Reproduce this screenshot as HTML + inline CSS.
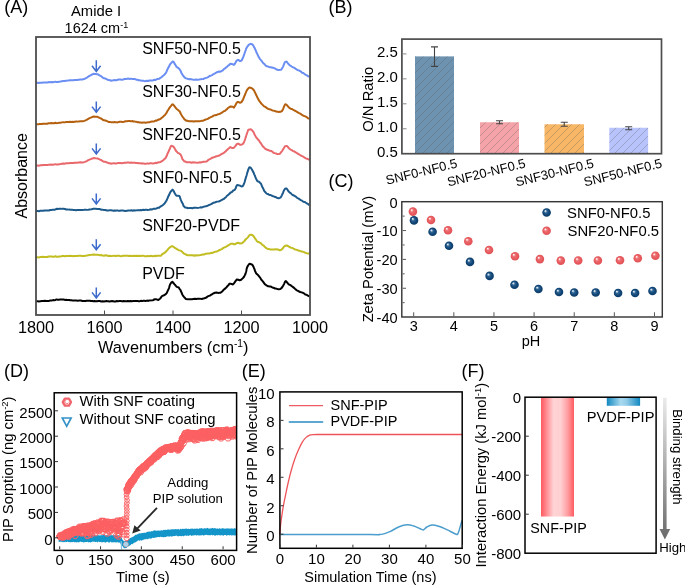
<!DOCTYPE html>
<html><head><meta charset="utf-8"><style>
html,body{margin:0;padding:0;background:#fff;}
svg{display:block;will-change:transform;}
text{font-family:"Liberation Sans", sans-serif;}
</style></head><body>
<svg width="685" height="586" viewBox="0 0 685 586">
<rect width="685" height="586" fill="#fff"/>
<text x="4.3" y="12.6" font-size="18" text-anchor="start" fill="#000" >(A)</text>
<text x="96.1" y="16.2" font-size="14.8" text-anchor="middle" fill="#000" >Amide I</text>
<text x="96.4" y="33.1" font-size="14.5" text-anchor="middle" fill="#000" >1624 cm<tspan font-size="9" dy="-5.5">-1</tspan></text>
<path d="M36,82.9 L36.68,82.84 L37.49,82.86 L38.42,83.02 L39.46,82.73 L40.59,82.7 L41.81,82.69 L43.09,82.42 L44.42,82.53 L45.79,82.53 L47.19,82.55 L48.61,82.1 L50.02,82.14 L51.42,81.94 L52.79,82.25 L54.12,82.1 L55.4,81.65 L56.61,82.07 L57.88,81.95 L59.2,81.67 L60.56,81.52 L61.94,81.14 L63.34,80.93 L64.73,81.07 L66.11,80.67 L67.47,80.61 L68.79,80.5 L70.05,80.25 L71.26,80.36 L72.39,80.23 L73.43,80.34 L74.37,80.06 L75.2,80.05 L75.9,79.9 L77,79.91 L78.6,79.71 L80.5,79.44 L82.28,79.5 L84,79.03 L85.56,78.32 L87,77.54 L88.31,76.6 L89.5,75.85 L91.5,74.78 L93.5,73.86 L95.5,73.96 L97.5,74.16 L99.5,75.39 L101.5,76.44 L102.69,77.54 L104,78.28 L105.47,78.56 L107,79.29 L108.47,80.09 L110,80.13 L110.84,80.65 L113.5,80.31 L114.33,80.07 L115.31,80.27 L116.42,80.23 L117.63,79.82 L118.93,79.56 L120.29,79.54 L121.7,79.72 L123.13,79.45 L124.56,78.96 L125.97,78.9 L127.34,78.71 L128.65,78.61 L129.88,78.96 L131,78.63 L132.43,78.91 L133.76,79.02 L135.01,79.11 L136.2,79.68 L137.35,79.66 L138.49,80.24 L139.63,80.23 L140.8,80.62 L142.01,80.67 L143.3,80.78 L144.44,81.16 L145.65,81.04 L146.9,80.72 L148.17,80.95 L149.47,80.48 L150.76,80.44 L152.03,80.53 L153.27,80.24 L154.46,79.74 L155.59,79.99 L156.64,79.32 L157.6,79.07 L159.06,78.81 L160.34,77.94 L161.47,77.22 L162.48,76.33 L163.39,75.54 L164.22,74.98 L165,73.96 L165.77,73.15 L166.36,71.95 L166.84,70.88 L167.27,70.03 L167.73,68.66 L168.3,67.64 L168.98,66.64 L169.71,64.99 L170.47,63.7 L171.24,62.99 L171.99,62.14 L172.7,61.46 L173.5,61.76 L174.27,63.03 L175.02,64.45 L175.73,65.35 L176.4,66.74 L177.76,67.64 L179.2,68.76 L179.73,69.5 L180.31,70.4 L180.92,71.58 L181.55,73.34 L182.22,74.17 L182.9,75.52 L183.6,76.17 L184.49,77.41 L185.3,78 L186.22,78.38 L187.43,78.72 L189.1,79.32 L190.07,79.09 L191.18,79.28 L192.4,79.56 L193.71,79.79 L195.08,79.71 L196.5,79.54 L197.92,79.86 L199.34,79.4 L200.73,79.17 L202.06,79.12 L203.3,78.97 L204.5,78.42 L205.7,78.04 L206.9,77.61 L208.09,77.12 L209.26,76.25 L210.4,75.72 L211.5,75.36 L212.56,74.78 L213.57,74.02 L214.52,73.53 L215.4,73.05 L217.02,72.2 L218.29,71.83 L219.4,71.58 L220.54,71.71 L221.9,70.91 L222.81,70.44 L223.81,69.16 L224.87,68.6 L225.96,67.58 L227.04,66.76 L228.09,65.63 L229.07,65.19 L229.95,64.03 L230.7,63.82 L232.69,64.24 L234,64.92 L234.8,63.91 L235.59,62.44 L236.4,61.03 L237.3,60.12 L238.61,60.08 L240.04,61.1 L241.6,60.52 L242.02,59.83 L242.47,58.69 L242.93,57.81 L243.41,56.63 L243.9,55.16 L244.39,53.82 L244.88,52.31 L245.36,51.07 L245.82,49.81 L246.27,48.37 L246.7,47.67 L247.1,47.07 L248.5,45.06 L249.69,44.2 L250.8,43.84 L251.73,44.1 L252.57,44.68 L253.7,46.27 L254.14,47.27 L254.62,47.84 L255.13,49.31 L255.66,50.14 L256.22,51.72 L256.8,52.96 L257.39,54.12 L257.99,55.62 L258.6,56.67 L259.2,57.76 L259.96,59.1 L260.75,59.88 L261.56,60.84 L262.38,62.02 L263.21,63.17 L264.04,63.79 L264.88,64.55 L265.7,65.62 L266.98,66.28 L268.23,66.65 L269.5,67.2 L270.84,67.16 L272.3,67.69 L273.47,67.83 L274.76,68.47 L276.11,69.21 L277.46,69.74 L278.77,70.05 L279.96,69.87 L281,69.74 L281.85,68.87 L282.57,67.59 L283.19,66.32 L283.74,64.96 L284.27,63.53 L284.81,62.34 L285.4,61.84 L286.4,61.56 L287.33,62.5 L288.39,64.06 L289.8,65.28 L290.68,65.8 L291.64,66.48 L292.69,67.18 L293.79,67.72 L294.95,68.26 L296.15,69.19 L297.37,69.95 L298.6,70.37 L299.65,70.8 L300.82,71.47 L302.06,72.67 L303.33,72.99 L304.6,74.13 L305.82,74.8 L306.96,75.35 L307.98,76.23 L308.84,76.34 L309.5,77" fill="none" stroke="#6b8ef3" stroke-width="2" stroke-linejoin="round"/>
<path d="M36,124.3 L36.68,124.23 L37.49,124.23 L38.42,124.37 L39.46,124.05 L40.59,124 L41.81,123.96 L43.09,123.66 L44.42,123.74 L45.79,123.72 L47.19,123.71 L48.61,123.24 L50.02,123.26 L51.42,123.05 L52.79,123.34 L54.12,123.19 L55.4,122.75 L56.61,123.18 L57.88,123.08 L59.2,122.82 L60.56,122.71 L61.94,122.37 L63.34,122.2 L64.73,122.38 L66.11,122.03 L67.47,122.01 L68.79,121.95 L70.05,121.75 L71.26,121.9 L72.39,121.81 L73.43,121.95 L74.37,121.71 L75.2,121.72 L75.9,121.6 L77,121.62 L78.6,121.45 L80.5,121.21 L82.28,121.32 L84,120.93 L85.56,120.33 L87,119.67 L88.31,118.84 L89.5,118.21 L91.5,117.31 L93.5,116.53 L95.5,116.68 L97.5,116.82 L99.5,117.9 L101.5,118.76 L102.69,119.74 L104,120.36 L105.47,120.52 L107,121.17 L108.47,121.9 L110,121.91 L111.74,122.35 L113.5,122.14 L114.43,122.1 L116.7,122.37 L117.59,122.39 L118.65,122.01 L119.85,121.79 L121.17,121.79 L122.56,121.99 L124.01,121.73 L125.48,121.25 L126.94,121.21 L128.37,121.04 L129.73,120.97 L131,121.36 L132.3,121.09 L133.56,121.43 L134.77,121.56 L135.97,121.64 L137.15,122.16 L138.33,122.06 L139.53,122.54 L140.74,122.41 L142,122.66 L143.3,122.54 L144.44,122.52 L145.65,122.8 L146.9,122.58 L148.17,122.16 L149.47,122.29 L150.76,121.71 L152.03,121.58 L153.27,121.57 L154.46,121.19 L155.59,120.6 L156.64,120.78 L157.6,120.05 L159.06,119.47 L160.34,119.06 L161.47,118.08 L162.48,117.27 L163.39,116.35 L164.22,115.56 L165,115.04 L165.9,113.79 L166.56,112.89 L167.1,111.68 L167.64,110.64 L168.3,109.85 L169.12,108.4 L170.01,107.12 L170.94,106.04 L171.85,104.74 L172.7,104.31 L173.7,105.21 L174.65,106.44 L175.55,107.62 L176.4,108.73 L177.76,109.73 L179.2,110.94 L179.73,111.36 L180.31,112.83 L180.92,114 L181.55,115.12 L182.22,116.26 L182.9,117.2 L183.6,118.05 L184.49,119.49 L185.3,119.83 L186.22,120.64 L187.43,120.79 L189.1,121.37 L190.07,121.34 L191.18,121.25 L192.4,121.22 L193.71,121.53 L195.08,121.16 L196.5,121.2 L197.92,121.29 L199.34,121.32 L200.73,121.03 L202.06,120.64 L203.3,120.73 L204.5,120.01 L205.7,119.49 L206.9,119.13 L208.09,118.69 L209.26,117.9 L210.4,117.37 L211.5,116.89 L212.56,116.43 L213.57,115.67 L214.52,115.32 L215.4,115.21 L217.02,114.68 L218.29,114.17 L219.4,113.93 L220.54,113.51 L221.9,112.61 L222.81,111.97 L223.81,111.24 L224.87,110.89 L225.96,109.9 L227.04,109.15 L228.09,107.8 L229.07,107.39 L229.95,106.7 L230.7,106.42 L232.69,106.69 L234,107.67 L234.64,106.41 L235.27,105.44 L235.91,104.15 L236.58,102.97 L237.3,102.03 L238.61,102.05 L240.04,102.74 L241.6,102.12 L242.06,101.14 L242.56,100.42 L243.07,99.44 L243.6,98.21 L244.14,96.66 L244.68,95.52 L245.21,94.24 L245.73,92.83 L246.22,91.72 L246.68,90.6 L247.1,89.94 L248.36,88.34 L249.38,87.52 L250.4,87.78 L251.42,88.05 L252.44,88.56 L253.7,90.02 L254.16,90.6 L254.64,91.72 L255.16,92.71 L255.69,93.81 L256.25,95.26 L256.82,96.11 L257.41,97.71 L258,98.5 L258.6,99.9 L259.2,100.79 L260.08,101.86 L260.98,103.22 L261.91,104.13 L262.85,105.12 L263.81,106.14 L264.76,106.56 L265.7,107.14 L266.98,108.12 L268.23,108.95 L269.5,109.2 L270.84,109.61 L272.3,110.42 L273.47,110.64 L274.76,110.95 L276.11,111.6 L277.46,111.64 L278.77,112.03 L279.96,111.79 L281,111.66 L281.85,111.2 L282.57,110.19 L283.19,108.87 L283.74,107.23 L284.27,106.08 L284.81,104.94 L285.4,104.3 L286.4,104.59 L287.33,105.68 L288.39,106.97 L289.8,108.11 L290.68,108.77 L291.64,108.96 L292.69,109.46 L293.79,110.2 L294.95,110.72 L296.15,111.32 L297.37,112.08 L298.6,112.87 L299.65,113.39 L300.82,113.95 L302.06,114.94 L303.33,115.74 L304.6,116.17 L305.82,116.67 L306.96,117.3 L307.98,118.34 L308.84,118.38 L309.5,119" fill="none" stroke="#b5600e" stroke-width="2" stroke-linejoin="round"/>
<path d="M36,165.6 L36.68,165.53 L37.49,165.54 L38.42,165.69 L39.46,165.38 L40.59,165.33 L41.81,165.31 L43.09,165.01 L44.42,165.11 L45.79,165.09 L47.19,165.1 L48.61,164.63 L50.02,164.66 L51.42,164.45 L52.79,164.75 L54.12,164.6 L55.4,164.15 L56.61,164.57 L57.88,164.46 L59.2,164.19 L60.56,164.06 L61.94,163.7 L63.34,163.51 L64.73,163.67 L66.11,163.3 L67.47,163.25 L68.79,163.17 L70.05,162.94 L71.26,163.08 L72.39,162.97 L73.43,163.09 L74.37,162.84 L75.2,162.83 L75.9,162.7 L77,162.73 L78.6,162.57 L80.5,162.36 L82.28,162.5 L84,162.15 L85.56,161.59 L87,160.98 L88.31,160.21 L89.5,159.63 L91.5,158.81 L93.5,158.09 L95.5,158.27 L97.5,158.39 L99.5,159.43 L101.5,160.21 L102.69,161.15 L104,161.73 L105.47,161.86 L107,162.47 L108.47,163.19 L110,163.18 L110.84,163.65 L113.5,163.36 L114.33,163.16 L115.31,163.42 L116.42,163.45 L117.63,163.11 L118.93,162.95 L120.29,163.01 L121.7,163.27 L123.13,163.09 L124.56,162.68 L125.97,162.68 L127.34,162.55 L128.65,162.49 L129.88,162.87 L131,162.53 L132.43,162.76 L133.76,162.76 L135.01,162.71 L136.2,163.11 L137.35,162.91 L138.49,163.3 L139.63,163.12 L140.8,163.38 L142.01,163.32 L143.3,163.38 L144.55,163.75 L145.87,163.65 L147.25,163.37 L148.65,163.66 L150.06,163.25 L151.47,163.29 L152.84,163.46 L154.16,163.25 L155.41,162.83 L156.56,163.15 L157.6,162.55 L159.25,162.16 L160.66,161.95 L161.88,161.15 L162.94,160.48 L163.9,159.61 L164.8,158.78 L165.6,158.06 L166.23,156.75 L166.77,155.72 L167.26,154.33 L167.75,153.14 L168.3,152.25 L168.89,150.75 L169.47,149.42 L170.06,148.22 L170.66,146.67 L171.31,145.83 L172,145.92 L172.78,146.24 L173.63,146.88 L174.52,148.15 L175.41,149.87 L176.25,151.28 L177,151.84 L178.14,153.08 L179.1,153.42 L180.3,154.26 L180.86,155.04 L181.33,156.01 L181.82,157.27 L182.41,159.1 L183.21,159.96 L184.31,161.27 L185.8,161.77 L186.69,162.3 L187.73,162.36 L188.9,162.32 L190.18,162.34 L191.54,162.68 L192.95,162.34 L194.41,162.41 L195.87,162.55 L197.32,162.64 L198.73,162.43 L200.08,162.16 L201.35,162.41 L202.51,161.92 L203.53,161.73 L204.4,161.78 L206.56,161.43 L207.64,160.59 L208.33,159.94 L209.3,159.33 L210.44,158.86 L211.65,157.99 L212.88,157.48 L214.08,157.19 L215.2,156.76 L216.43,156.23 L217.56,156.08 L218.68,155.81 L219.9,155.11 L221.01,154.41 L222.19,153.61 L223.41,153.2 L224.59,152.17 L225.7,151.45 L226.74,150.04 L227.75,149.38 L228.7,148.35 L229.59,147.71 L230.4,147 L231.89,148.01 L233.3,148.07 L234.05,147.67 L234.88,146.69 L235.75,145.55 L236.6,144.38 L237.4,143.71 L238.63,143.85 L239.8,144.67 L240.9,144.72 L241.93,144.51 L242.9,143.85 L243.8,142.6 L244.3,141.33 L244.76,140.28 L245.2,138.95 L245.64,137.38 L246.1,136.07 L246.58,134.56 L247.06,133.21 L247.54,131.8 L248.02,130.28 L248.5,129.68 L250.8,129.27 L251.91,130.01 L253.1,131.52 L253.66,132.32 L254.25,133.71 L254.87,134.93 L255.5,136.1 L256.1,137.38 L257.03,138.23 L257.95,139.58 L259,140.45 L259.74,141.8 L260.55,142.95 L261.4,144.09 L262.26,145.56 L263.1,146.5 L264.15,147.67 L265.22,148.8 L266.26,149.25 L267.2,149.74 L268.62,150.26 L270.1,150.7 L271.11,150.96 L272.25,151.62 L273.46,152.7 L274.7,153.09 L275.97,153.44 L277.3,154.13 L278.65,153.97 L280,153.69 L280.77,152.7 L281.56,151.71 L282.36,150.58 L283.15,149.25 L283.93,147.94 L284.68,146.64 L285.4,146.14 L286.47,145.9 L287.39,146.45 L288.41,147.69 L289.8,148.98 L290.68,149.53 L291.64,150.06 L292.69,150.85 L293.79,151.18 L294.95,151.84 L296.15,152.72 L297.37,153.36 L298.6,154.05 L299.65,154.75 L300.82,155.51 L302.06,156.12 L303.33,156.71 L304.6,157.67 L305.82,158.4 L306.96,158.72 L307.98,159.06 L308.84,159.49 L309.5,160.1" fill="none" stroke="#e9686c" stroke-width="2" stroke-linejoin="round"/>
<path d="M36,211.1 L36.76,211.03 L37.75,211.03 L38.92,211.16 L40.23,210.84 L41.65,210.78 L43.14,210.74 L44.65,210.43 L46.16,210.51 L47.62,210.48 L48.98,210.47 L50.22,209.98 L51.3,209.99 L53.08,209.63 L54.56,209.71 L55.84,209.32 L57.03,208.68 L58.22,208.97 L59.5,208.85 L60.85,208.73 L62.19,208.87 L63.53,208.85 L64.89,209.04 L66.27,209.55 L67.7,209.46 L69.02,209.62 L70.45,209.71 L71.91,209.64 L73.36,209.9 L74.73,209.91 L75.97,210.15 L77,209.99 L79.11,210.1 L80.5,210.02 L82.28,210.05 L84,209.85 L85.56,209.63 L87,209.88 L88.31,209.73 L89.5,209.5 L91.5,209.21 L93.5,208.84 L95.5,208.75 L97.5,208.89 L99.5,209 L101.5,209.68 L102.69,209.67 L104,210.1 L105.47,210.02 L107,210.48 L108.47,210.53 L110,210.14 L111.09,210.31 L113.5,210.74 L114.33,210.52 L115.25,210.82 L116.27,210.54 L117.38,210.39 L118.57,210.73 L119.83,210.84 L121.16,210.59 L122.55,210.51 L123.99,210.65 L125.48,210.98 L127,210.84 L128.04,210.47 L129.15,210.5 L130.32,210.39 L131.54,210.32 L132.81,210.67 L134.1,210.29 L135.42,210.44 L136.74,210.32 L138.07,210.12 L139.38,210.35 L140.68,209.95 L141.94,210.16 L143.16,209.8 L144.32,209.89 L145.42,209.7 L146.45,209.65 L147.4,209.95 L149.19,209.7 L150.77,209.26 L152.16,209.4 L153.41,208.85 L154.54,208.74 L155.59,208.76 L156.6,208.38 L157.6,207.78 L159.11,207.67 L160.43,206.55 L161.59,205.82 L162.61,205.34 L163.5,204.41 L164.59,203.45 L165.29,202.44 L166,201.28 L166.5,200.6 L167,199.32 L167.5,198.34 L168,197.04 L168.5,195.97 L169.15,194.87 L169.81,193.22 L170.45,192.01 L171,191.2 L172.5,189.63 L173.47,190.68 L174.5,192.72 L175.11,193.85 L175.7,194.79 L176.4,195.63 L177.71,195.65 L179.2,196.04 L179.71,196.51 L180.22,198.16 L180.75,199.58 L181.3,200.95 L181.88,202.28 L182.5,203.29 L183.1,204.43 L183.55,206.01 L184.14,206.55 L185.16,207.54 L186.9,207.77 L187.76,208.17 L188.77,208.12 L189.9,207.98 L191.13,207.92 L192.45,208.18 L193.82,207.77 L195.24,207.78 L196.67,207.85 L198.09,207.88 L199.49,207.61 L200.84,207.26 L202.13,207.42 L203.32,206.85 L204.4,206.54 L205.78,206.33 L207.09,206 L208.32,205.3 L209.48,204.83 L210.59,204.37 L211.64,203.92 L212.64,203.14 L213.59,202.75 L214.51,202.59 L215.4,202.26 L216.95,201.63 L218.21,201.45 L219.35,201.24 L220.52,200.69 L221.9,199.95 L222.8,199.33 L223.79,199.04 L224.83,198.05 L225.9,197.23 L226.97,195.74 L228.01,195.1 L229,194.1 L229.91,193.41 L230.7,192.5 L232.14,191.77 L233.26,190.52 L234.17,190.13 L235,189.43 L235.64,188.36 L236.08,186.95 L236.55,185.75 L237.3,185.06 L238.48,185.24 L239.94,185.64 L241.42,186.39 L242.7,186.22 L243.28,185.47 L243.8,184.19 L244.26,183.13 L244.7,181.76 L245.12,180.12 L245.55,178.66 L246,177.14 L246.41,175.98 L246.82,174.57 L247.24,172.8 L247.65,171.62 L248.06,170.43 L248.48,169.16 L248.89,168.13 L249.3,167.34 L250.36,167.42 L251.42,168.68 L252.6,170.67 L253.11,171.85 L253.65,172.65 L254.22,174.37 L254.81,175.41 L255.39,177.15 L255.96,178.42 L256.5,179.45 L257,180.61 L258.07,181.51 L259.01,181.74 L260.2,182.93 L260.69,183.36 L261.2,184.23 L261.74,185.54 L262.31,187 L262.9,188.03 L263.54,189.28 L264.21,190.87 L264.93,191.81 L265.7,192.57 L266.66,193.6 L267.75,193.96 L268.9,194.7 L270.1,194.91 L271.3,195.44 L272.45,196 L273.54,196.39 L274.5,196.71 L276.11,197.24 L277.46,198.13 L278.71,198.35 L280,197.8 L280.61,197.36 L281.23,196.57 L281.84,195.37 L282.46,193.95 L283.07,192.7 L283.68,191.02 L284.27,189.82 L284.84,189.09 L285.4,188.48 L286.47,188.45 L287.39,189.58 L288.41,191.21 L289.8,192.6 L290.68,193.16 L291.64,194.16 L292.69,194.99 L293.79,195.48 L294.95,196.08 L296.15,196.86 L297.37,198.11 L298.6,198.45 L299.65,199.46 L300.82,200.09 L302.06,200.67 L303.33,201.67 L304.6,201.97 L305.82,202.73 L306.96,203.54 L307.98,203.88 L308.84,204.8 L309.5,205" fill="none" stroke="#1d5a8c" stroke-width="2" stroke-linejoin="round"/>
<path d="M36,257.3 L36.68,257.25 L37.49,257.27 L38.42,257.43 L39.46,257.13 L40.59,257.11 L41.81,257.1 L43.09,256.82 L44.42,256.94 L45.79,256.95 L47.19,256.98 L48.61,256.54 L50.02,256.6 L51.42,256.43 L52.79,256.76 L54.12,256.65 L55.4,256.25 L56.61,256.72 L57.88,256.67 L59.2,256.46 L60.56,256.4 L61.94,256.11 L63.34,255.99 L64.73,256.23 L66.11,255.93 L67.47,255.96 L68.79,255.96 L70.05,255.81 L71.26,256.01 L72.39,255.96 L73.43,256.15 L74.37,255.95 L75.2,256 L75.9,255.9 L77,255.97 L78.6,255.84 L80.5,255.7 L82.28,256.02 L84,255.93 L85.56,255.72 L87,255.52 L88.31,255.16 L89.5,254.98 L91.5,254.8 L93.5,254.53 L95.5,254.84 L97.5,254.71 L99.5,255.13 L101.5,255.12 L102.69,255.58 L104,255.66 L105.47,255.34 L107,255.56 L108.47,256.01 L110,255.83 L111.09,256.13 L113.5,255.83 L114.29,255.66 L115.11,255.96 L116,256.04 L116.95,255.77 L118,255.67 L119.14,255.81 L120.41,256.15 L121.81,256.04 L123.37,255.69 L125.09,255.76 L127,255.68 L127.93,255.66 L128.95,256.06 L130.04,255.74 L131.21,255.95 L132.44,255.89 L133.73,255.76 L135.07,256.07 L136.44,255.75 L137.84,256.04 L139.27,255.76 L140.7,255.93 L142.15,255.83 L143.59,255.87 L145.02,256.25 L146.43,256.17 L147.81,255.9 L149.15,256.21 L150.45,255.85 L151.7,255.94 L152.88,256.18 L154,256.06 L155.04,255.75 L155.99,256.21 L156.85,255.77 L157.6,255.77 L161.04,255.72 L161.57,254.99 L162,254.39 L163.26,253.6 L164.42,252.85 L165.5,252.24 L166.45,251.05 L167.33,250.13 L168.3,248.93 L169.42,247.76 L170.64,246.84 L172,246.09 L173.2,246.58 L174.52,247.7 L175.84,248.41 L177,249.21 L178.55,250.1 L180.3,250.67 L181.16,250.95 L182.1,251.7 L183.13,252.87 L184.26,253.85 L185.51,254.2 L186.9,255.14 L187.93,255.34 L189.07,255.35 L190.29,255.36 L191.56,255.24 L192.86,255.22 L194.16,255.71 L195.44,255.27 L196.66,255.47 L197.8,255.17 L199.15,255.37 L200.4,255.09 L201.6,254.74 L202.78,254.44 L203.99,254.48 L205.25,253.86 L206.6,253.65 L207.71,253.62 L208.86,253.58 L210.03,253.25 L211.22,252.86 L212.45,252.96 L213.7,252.3 L214.97,251.85 L216.27,251.58 L217.6,251.17 L218.65,250.49 L219.78,249.99 L220.96,249.45 L222.17,248.86 L223.41,247.89 L224.63,247.27 L225.83,246.82 L226.98,246.17 L228.06,245.36 L229.06,244.81 L229.94,244.29 L230.7,243.71 L232.96,243.66 L234,244.34 L235.06,244.32 L236.13,243.43 L237.3,243.05 L238.61,242.75 L240.04,243.55 L241.6,243.29 L242.47,242.86 L243.43,241.8 L244.41,241.17 L245.39,239.62 L246.3,238.87 L247.1,238.13 L248.08,237.09 L248.89,235.93 L249.63,235.07 L250.4,234.66 L251.5,234.82 L252.6,235.2 L253.7,236.4 L254.53,237.58 L255.36,238.91 L256.18,240 L257,241.26 L257.91,241.93 L258.8,242.07 L260.2,242.87 L260.94,243.32 L261.78,244.17 L262.71,245.03 L263.7,245.64 L264.73,246.83 L265.79,247.85 L266.85,248.48 L267.9,248.92 L269.14,249.11 L270.47,249.49 L271.83,249.47 L273.19,249.39 L274.48,249.56 L275.67,249.13 L276.7,249.54 L278.46,249.57 L279.73,250.31 L281,250.09 L281.87,249.27 L282.75,248.45 L283.64,247.14 L284.52,246.16 L285.4,245.73 L286.7,245.41 L288.01,246.02 L289.8,247.09 L290.81,247.68 L291.93,247.87 L293.15,248.32 L294.45,249.22 L295.8,249.6 L297.19,249.98 L298.6,250.71 L299.78,250.79 L301.09,251.39 L302.48,251.56 L303.9,252.11 L305.29,252.72 L306.6,253.17 L307.77,253.49 L308.76,253.52 L309.5,253.8" fill="none" stroke="#c2bd20" stroke-width="2" stroke-linejoin="round"/>
<path d="M36,301.3 L36.78,301.24 L37.79,301.27 L39,301.43 L40.36,301.14 L41.82,301.11 L43.33,301.1 L44.86,300.82 L46.35,300.94 L47.77,300.93 L49.07,300.94 L50.2,300.48 L51.73,300.43 L53.1,300.1 L54.34,300.26 L55.48,299.97 L56.57,299.41 L57.63,299.75 L58.7,299.65 L59.99,299.48 L61.02,299.56 L62.06,299.48 L63.43,299.58 L65.4,300.02 L66.27,299.81 L67.19,299.93 L68.15,300.01 L69.17,299.94 L70.24,300.23 L71.36,300.27 L72.54,300.53 L73.77,300.41 L75.06,300.53 L76.4,300.5 L77.81,300.64 L79.28,300.58 L80.81,300.53 L82.4,300.97 L83.4,301 L84.43,300.94 L85.48,300.9 L86.56,300.73 L87.65,300.71 L88.78,300.78 L89.92,300.7 L91.09,301.11 L92.28,300.94 L93.49,301.22 L94.71,301 L95.96,301.34 L97.23,301.32 L98.52,300.89 L99.83,301.03 L101.16,301.43 L102.5,301.22 L103.86,301.51 L105.24,301.21 L106.63,301.05 L108.04,301.36 L109.46,301.45 L110.9,301.18 L112,301.08 L113.15,301.21 L114.34,301.54 L115.57,301.43 L116.84,301.07 L118.15,301.13 L119.48,301.04 L120.83,301.01 L122.21,301.39 L123.6,301.05 L125,301.24 L126.41,301.16 L127.82,301 L129.23,301.27 L130.63,300.93 L132.03,301.19 L133.41,300.88 L134.77,301.02 L136.11,300.88 L137.42,300.89 L138.71,301.24 L139.95,301.13 L141.16,300.83 L142.32,301.11 L143.44,300.72 L144.51,300.79 L145.51,301.01 L146.46,300.87 L147.34,300.54 L148.16,300.99 L148.9,300.55 L152.62,300.25 L153.84,300.12 L153.99,299.52 L154.5,299.29 L155.98,299.3 L157.26,299.64 L158.3,300.04 L160,298.66 L160.68,297.97 L161.42,296.78 L162.3,295.87 L163.42,295.55 L164.67,294.82 L165.8,294.14 L166.69,293.19 L167.45,291.45 L168.2,289.81 L168.67,289.01 L169.15,287.55 L169.62,285.8 L170.07,284.45 L170.5,283.73 L171.4,282.44 L172.3,281.74 L173.42,283.01 L174.6,284.41 L175.39,285.26 L176.17,286.24 L176.9,286.89 L178.7,287.45 L179.51,288.81 L180.4,289.86 L180.94,291.27 L181.53,292.44 L182.15,294.21 L182.8,295.35 L183.75,296.6 L184.76,297.74 L185.7,298.92 L188,299.17 L189.08,299.2 L190.4,299.25 L191.89,299.24 L193.45,298.96 L195,298.68 L196.33,299.02 L197.73,298.7 L199.17,298.68 L200.6,298.87 L201.96,298.93 L203.2,298.56 L204.51,298.24 L205.69,297.79 L206.79,297.26 L207.87,296.35 L209,295.83 L210.19,295.43 L211.41,294.73 L212.62,293.83 L213.8,293.22 L214.9,292.75 L216.51,292.53 L218,292.89 L219.6,292.74 L220.52,292.73 L221.5,291.91 L222.51,291.21 L223.51,289.79 L224.49,289.21 L225.4,288.29 L226.42,287.4 L227.4,286.07 L228.33,285.37 L229.2,283.97 L230,283.62 L231.55,284.03 L233,284.42 L233.72,283.64 L234.51,282.56 L235.31,281.41 L236.08,280.41 L236.8,279.42 L238.31,279.71 L239.7,280.32 L241.15,279.78 L242.6,278.36 L243.35,277.65 L244.12,276.58 L244.85,275.15 L245.5,273.77 L245.86,272.56 L246.16,271.43 L246.44,270.15 L246.7,268.59 L246.98,267.73 L247.3,266.97 L248.03,265.51 L248.81,264.49 L249.6,263.74 L251.9,264.43 L252.8,265.51 L253.7,267.27 L254.12,268.51 L254.56,269.33 L255.01,270.99 L255.49,271.83 L256,273.15 L256.88,274.16 L257.82,274.77 L258.9,276.11 L259.65,277.02 L260.48,278.31 L261.35,279.78 L262.2,280.68 L263,281.64 L263.92,282.94 L264.79,284.17 L265.64,284.78 L266.5,285.42 L268.18,286.28 L270,286.39 L271.1,286.7 L272.31,287.5 L273.54,287.75 L274.7,288.39 L276.16,288.61 L277.54,289.08 L278.8,289.37 L280.36,288.95 L281.7,287.91 L282.53,286.61 L283.29,285.47 L284,284.1 L284.62,282.67 L285.18,281.55 L285.8,281.08 L286.81,282.05 L288.1,283.71 L288.98,284.53 L290,284.86 L291.09,285.53 L292.2,286.47 L293.1,287.11 L294.04,287.88 L294.99,288.81 L295.95,289.7 L296.9,290.3 L298,290.8 L299.04,291.51 L300.19,292.03 L301.6,292.37 L302.65,292.69 L303.9,293.29 L305.26,294.43 L306.62,294.68 L307.88,295.68 L308.94,296.15 L309.7,296.5" fill="none" stroke="#000000" stroke-width="2" stroke-linejoin="round"/>
<path d="M96.3,60.3 V71.4 M92.0,65.80000000000001 L96.3,71.4 L100.6,65.80000000000001" fill="none" stroke="#3d6acc" stroke-width="1.5"/>
<path d="M96.3,101.5 V112.2 M92.0,106.60000000000001 L96.3,112.2 L100.6,106.60000000000001" fill="none" stroke="#3d6acc" stroke-width="1.5"/>
<path d="M96.3,143.4 V154 M92.0,148.4 L96.3,154 L100.6,148.4" fill="none" stroke="#3d6acc" stroke-width="1.5"/>
<path d="M96.3,193.4 V204 M92.0,198.4 L96.3,204 L100.6,198.4" fill="none" stroke="#3d6acc" stroke-width="1.5"/>
<path d="M96.3,239.2 V249.8 M92.0,244.20000000000002 L96.3,249.8 L100.6,244.20000000000002" fill="none" stroke="#3d6acc" stroke-width="1.5"/>
<path d="M96.3,287.4 V298 M92.0,292.4 L96.3,298 L100.6,292.4" fill="none" stroke="#3d6acc" stroke-width="1.5"/>
<text x="142.2" y="54.2" font-size="16" text-anchor="start" fill="#000" >SNF50-NF0.5</text>
<text x="142.2" y="97.2" font-size="16" text-anchor="start" fill="#000" >SNF30-NF0.5</text>
<text x="142.2" y="139.8" font-size="16" text-anchor="start" fill="#000" >SNF20-NF0.5</text>
<text x="142.2" y="182.9" font-size="16" text-anchor="start" fill="#000" >SNF0-NF0.5</text>
<text x="142.2" y="231.4" font-size="16" text-anchor="start" fill="#000" >SNF20-PVDF</text>
<text x="142.2" y="278.9" font-size="16" text-anchor="start" fill="#000" >PVDF</text>
<rect x="36" y="37" width="274" height="278" fill="none" stroke="#4d4d4d" stroke-width="1.8"/>
<line x1="104.5" y1="315" x2="104.5" y2="310.5" stroke="#4d4d4d" stroke-width="1"/>
<line x1="173" y1="315" x2="173" y2="310.5" stroke="#4d4d4d" stroke-width="1"/>
<line x1="241.5" y1="315" x2="241.5" y2="310.5" stroke="#4d4d4d" stroke-width="1"/>
<text x="36" y="333" font-size="16.3" text-anchor="middle" fill="#000" >1800</text>
<text x="104.5" y="333" font-size="16.3" text-anchor="middle" fill="#000" >1600</text>
<text x="173" y="333" font-size="16.3" text-anchor="middle" fill="#000" >1400</text>
<text x="241.5" y="333" font-size="16.3" text-anchor="middle" fill="#000" >1200</text>
<text x="310" y="333" font-size="16.3" text-anchor="middle" fill="#000" >1000</text>
<text x="173.2" y="352.8" font-size="16.3" text-anchor="middle" fill="#000" >Wavenumbers (cm<tspan font-size="10.2" dy="-6.2">-1</tspan><tspan dy="6.2">)</tspan></text>
<text x="0" y="0" font-size="16" text-anchor="middle" fill="#000" transform="translate(26.6,175.8) rotate(-90)">Absorbance</text>
<text x="328.5" y="12.5" font-size="18" text-anchor="start" fill="#000" >(B)</text>
<defs><pattern id="hatch" patternUnits="userSpaceOnUse" width="8" height="8"><path d="M-2,10 L10,-2 M-2,2 L2,-2 M6,10 L10,6" stroke="#555" stroke-opacity="0.33" stroke-width="0.9"/></pattern></defs>
<rect x="415" y="56.39" width="39" height="97.31" fill="#6e93b1"/>
<rect x="415" y="56.39" width="39" height="97.31" fill="url(#hatch)"/>
<path d="M434.5,46.91 V66.37 M431,46.91 H438 M431,66.37 H438" stroke="#444" stroke-width="1.1" fill="none"/>
<rect x="480" y="122.26" width="39" height="31.44" fill="#f4a3a8"/>
<rect x="480" y="122.26" width="39" height="31.44" fill="url(#hatch)"/>
<path d="M499.5,120.77 V123.76 M496,120.77 H503 M496,123.76 H503" stroke="#444" stroke-width="1.1" fill="none"/>
<rect x="544.5" y="124.26" width="39.5" height="29.44" fill="#f7b766"/>
<rect x="544.5" y="124.26" width="39.5" height="29.44" fill="url(#hatch)"/>
<path d="M564.25,122.26 V126.25 M560.75,122.26 H567.75 M560.75,126.25 H567.75" stroke="#444" stroke-width="1.1" fill="none"/>
<rect x="609.3" y="127.75" width="38.8" height="25.95" fill="#b9c3fb"/>
<rect x="609.3" y="127.75" width="38.8" height="25.95" fill="url(#hatch)"/>
<path d="M628.7,126.75 V129.75 M625.2,126.75 H632.2 M625.2,129.75 H632.2" stroke="#444" stroke-width="1.1" fill="none"/>
<rect x="401.9" y="39.1" width="259.6" height="114.6" fill="none" stroke="#4d4d4d" stroke-width="1.7"/>
<text x="397.9" y="157" font-size="15" text-anchor="end" fill="#000" >0.5</text>
<line x1="402.7" y1="128.75" x2="406.5" y2="128.75" stroke="#888" stroke-width="1"/>
<text x="397.9" y="132.05" font-size="15" text-anchor="end" fill="#000" >1.0</text>
<line x1="402.7" y1="103.8" x2="406.5" y2="103.8" stroke="#888" stroke-width="1"/>
<text x="397.9" y="107.1" font-size="15" text-anchor="end" fill="#000" >1.5</text>
<line x1="402.7" y1="78.85" x2="406.5" y2="78.85" stroke="#888" stroke-width="1"/>
<text x="397.9" y="82.15" font-size="15" text-anchor="end" fill="#000" >2.0</text>
<line x1="402.7" y1="53.9" x2="406.5" y2="53.9" stroke="#888" stroke-width="1"/>
<text x="397.9" y="57.2" font-size="15" text-anchor="end" fill="#000" >2.5</text>
<text x="0" y="0" font-size="14.8" text-anchor="middle" fill="#000" transform="translate(372.7,99.3) rotate(-90)">O/N Ratio</text>
<text x="0" y="0" font-size="13" text-anchor="end" fill="#000" transform="translate(457.9,167.2) rotate(-14)">SNF0-NF0.5</text>
<text x="0" y="0" font-size="13" text-anchor="end" fill="#000" transform="translate(526.2,167.2) rotate(-14)">SNF20-NF0.5</text>
<text x="0" y="0" font-size="13" text-anchor="end" fill="#000" transform="translate(594.5,167.2) rotate(-14)">SNF30-NF0.5</text>
<text x="0" y="0" font-size="13" text-anchor="end" fill="#000" transform="translate(662.8,167.2) rotate(-14)">SNF50-NF0.5</text>
<text x="328.4" y="187.4" font-size="18" text-anchor="start" fill="#000" >(C)</text>
<defs><radialGradient id="gb" cx="0.5" cy="0.5" r="0.5" fx="0.33" fy="0.3"><stop offset="0" stop-color="#f4f8fc"/><stop offset="0.12" stop-color="#c9d9e8"/><stop offset="0.35" stop-color="#2f6593"/><stop offset="0.7" stop-color="#114677"/><stop offset="1" stop-color="#0d3d6a"/></radialGradient><radialGradient id="gr" cx="0.5" cy="0.5" r="0.5" fx="0.33" fy="0.3"><stop offset="0" stop-color="#ffffff"/><stop offset="0.12" stop-color="#fcd9da"/><stop offset="0.35" stop-color="#ec7174"/><stop offset="0.7" stop-color="#e85a5e"/><stop offset="1" stop-color="#df5256"/></radialGradient></defs>
<circle cx="412.9" cy="211.6" r="4.3" fill="url(#gr)"/>
<circle cx="431" cy="220" r="4.3" fill="url(#gr)"/>
<circle cx="448" cy="230.3" r="4.3" fill="url(#gr)"/>
<circle cx="468.3" cy="241.2" r="4.3" fill="url(#gr)"/>
<circle cx="489" cy="250" r="4.3" fill="url(#gr)"/>
<circle cx="515" cy="256.2" r="4.3" fill="url(#gr)"/>
<circle cx="539.9" cy="259.1" r="4.3" fill="url(#gr)"/>
<circle cx="560.8" cy="260.6" r="4.3" fill="url(#gr)"/>
<circle cx="578.2" cy="260.5" r="4.3" fill="url(#gr)"/>
<circle cx="597.9" cy="260.5" r="4.3" fill="url(#gr)"/>
<circle cx="620" cy="260.3" r="4.3" fill="url(#gr)"/>
<circle cx="637.8" cy="258.3" r="4.3" fill="url(#gr)"/>
<circle cx="655.4" cy="255.7" r="4.3" fill="url(#gr)"/>
<circle cx="414" cy="220.4" r="4.3" fill="url(#gb)"/>
<circle cx="432.6" cy="231.8" r="4.3" fill="url(#gb)"/>
<circle cx="449" cy="245.8" r="4.3" fill="url(#gb)"/>
<circle cx="470" cy="261.9" r="4.3" fill="url(#gb)"/>
<circle cx="489.6" cy="275.9" r="4.3" fill="url(#gb)"/>
<circle cx="514.5" cy="284.7" r="4.3" fill="url(#gb)"/>
<circle cx="538.4" cy="289" r="4.3" fill="url(#gb)"/>
<circle cx="559" cy="292" r="4.3" fill="url(#gb)"/>
<circle cx="574.2" cy="292.5" r="4.3" fill="url(#gb)"/>
<circle cx="595.7" cy="292.5" r="4.3" fill="url(#gb)"/>
<circle cx="618.1" cy="293" r="4.3" fill="url(#gb)"/>
<circle cx="635.1" cy="293" r="4.3" fill="url(#gb)"/>
<circle cx="652.5" cy="291" r="4.3" fill="url(#gb)"/>
<circle cx="546.6" cy="212.5" r="4.3" fill="url(#gb)"/>
<circle cx="546.6" cy="230.8" r="4.3" fill="url(#gr)"/>
<text x="567.1" y="218" font-size="14.85" text-anchor="start" fill="#000" >SNF0-NF0.5</text>
<text x="567.5" y="236.3" font-size="14.85" text-anchor="start" fill="#000" >SNF20-NF0.5</text>
<rect x="401.8" y="201.7" width="260.5" height="115.3" fill="none" stroke="#383838" stroke-width="1.45"/>
<text x="397.7" y="207.5" font-size="14.6" text-anchor="end" fill="#000" >0</text>
<line x1="402.6" y1="230.55" x2="406" y2="230.55" stroke="#555" stroke-width="1"/>
<text x="397.7" y="236.35" font-size="14.6" text-anchor="end" fill="#000" >-10</text>
<line x1="402.6" y1="259.4" x2="406" y2="259.4" stroke="#555" stroke-width="1"/>
<text x="397.7" y="265.2" font-size="14.6" text-anchor="end" fill="#000" >-20</text>
<line x1="402.6" y1="288.25" x2="406" y2="288.25" stroke="#555" stroke-width="1"/>
<text x="397.7" y="294.05" font-size="14.6" text-anchor="end" fill="#000" >-30</text>
<text x="397.7" y="322.9" font-size="14.6" text-anchor="end" fill="#000" >-40</text>
<line x1="402.6" y1="216.12" x2="404.6" y2="216.12" stroke="#555" stroke-width="1"/>
<line x1="402.6" y1="244.97" x2="404.6" y2="244.97" stroke="#555" stroke-width="1"/>
<line x1="402.6" y1="273.82" x2="404.6" y2="273.82" stroke="#555" stroke-width="1"/>
<line x1="402.6" y1="302.67" x2="404.6" y2="302.67" stroke="#555" stroke-width="1"/>
<line x1="413.7" y1="316.3" x2="413.7" y2="312.3" stroke="#555" stroke-width="1"/>
<text x="413.7" y="331.2" font-size="14.5" text-anchor="middle" fill="#000" >3</text>
<line x1="453.83" y1="316.3" x2="453.83" y2="312.3" stroke="#555" stroke-width="1"/>
<text x="453.83" y="331.2" font-size="14.5" text-anchor="middle" fill="#000" >4</text>
<line x1="493.96" y1="316.3" x2="493.96" y2="312.3" stroke="#555" stroke-width="1"/>
<text x="493.96" y="331.2" font-size="14.5" text-anchor="middle" fill="#000" >5</text>
<line x1="534.09" y1="316.3" x2="534.09" y2="312.3" stroke="#555" stroke-width="1"/>
<text x="534.09" y="331.2" font-size="14.5" text-anchor="middle" fill="#000" >6</text>
<line x1="574.22" y1="316.3" x2="574.22" y2="312.3" stroke="#555" stroke-width="1"/>
<text x="574.22" y="331.2" font-size="14.5" text-anchor="middle" fill="#000" >7</text>
<line x1="614.35" y1="316.3" x2="614.35" y2="312.3" stroke="#555" stroke-width="1"/>
<text x="614.35" y="331.2" font-size="14.5" text-anchor="middle" fill="#000" >8</text>
<line x1="654.48" y1="316.3" x2="654.48" y2="312.3" stroke="#555" stroke-width="1"/>
<text x="654.48" y="331.2" font-size="14.5" text-anchor="middle" fill="#000" >9</text>
<text x="530.9" y="346" font-size="14.5" text-anchor="middle" fill="#000" >pH</text>
<text x="0" y="0" font-size="14.7" text-anchor="middle" fill="#000" transform="translate(373.2,259.1) rotate(-90)">Zeta Potential (mV)</text>
<text x="4" y="376.6" font-size="18" text-anchor="start" fill="#000" >(D)</text>
<defs><clipPath id="dclip0"><rect x="54.6" y="393.3" width="181.4" height="156"/></clipPath></defs>
<path clip-path="url(#dclip0)" d="M58.61,535.29 L59.16,535.54 L59.7,535.27 L60.24,534.88 L60.79,534.92 L61.33,535.19 L61.88,534.88 L62.42,535.13 L62.97,534.92 L63.51,535.28 L64.06,535.76 L64.6,535.52 L65.15,535.22 L65.69,534.83 L66.24,534.92 L66.78,535.34 L67.32,535.5 L67.87,535.11 L68.41,535.33 L68.96,535 L69.5,535.28 L70.05,535.21 L70.59,534.97 L71.14,534.93 L71.68,535.46 L72.23,535.73 L72.77,534.95 L73.31,534.98 L73.86,534.78 L74.4,535.29 L74.95,535.54 L75.49,535.23 L76.04,535.26 L76.58,535.08 L77.13,535.05 L77.67,534.78 L78.22,534.93 L78.76,535.53 L79.31,535 L79.85,534.93 L80.39,535.26 L80.94,534.74 L81.48,535.15 L82.03,534.87 L82.57,534.98 L83.12,534.96 L83.66,535.13 L84.21,535.12 L84.75,534.84 L85.3,535.72 L85.84,535.19 L86.39,535.05 L86.93,535.42 L87.47,534.96 L88.02,535.08 L88.56,535.34 L89.11,535.13 L89.65,535.62 L90.2,535.25 L90.74,535.22 L91.29,535.22 L91.83,534.88 L92.38,535.25 L92.92,535.27 L93.47,535.43 L94.01,535.16 L94.55,535.07 L95.1,534.67 L95.64,535.53 L96.19,535.18 L96.73,535.4 L97.28,535.08 L97.82,535.21 L98.37,535.25 L98.91,535.29 L99.46,535.66 L100,534.62 L100.55,535.49 L101.09,535.58 L101.63,534.91 L102.18,535.31 L102.72,535.18 L103.27,534.84 L103.81,535.06 L104.36,535.32 L104.9,535.08 L105.45,535.23 L105.99,535.26 L106.54,535.06 L107.08,535.48 L107.62,535.11 L108.17,534.96 L108.71,535.55 L109.26,535.16 L109.8,535.61 L110.35,535.27 L110.89,535.27 L111.44,535.04 L111.98,535.46 L112.53,535.13 L113.07,534.89 L113.62,535.3 L114.16,535.41 L114.7,534.85 L115.25,534.97 L115.79,535.67 L116.34,534.98 L116.88,535.75 L117.43,535.44 L117.97,535.48 L118.52,535.04 L119.06,535.69 L119.61,535.43 L120.15,536.34 L120.7,537.06 L121.24,537.26 L121.78,538.05 L122.33,539.55 L122.87,539.95 L123.42,540.53 L123.96,541.46 L124.51,540.88 L125.05,541.17 L125.6,540.84 L126.14,540.57 L126.69,540.73 L127.23,540.72 L127.78,540.16 L128.32,539.09 L128.86,539.03 L129.41,538.92 L129.95,538.32 L130.5,537.88 L131.04,537.45 L131.59,537.42 L132.13,537.25 L132.68,536.63 L133.22,536.74 L133.77,536.19 L134.31,535.68 L134.85,535.44 L135.4,534.85 L135.94,534.71 L136.49,534.96 L137.03,533.94 L137.58,534.46 L138.12,533.71 L138.67,533.72 L139.21,533.31 L139.76,533.48 L140.3,533.12 L140.85,533.73 L141.39,533.18 L141.93,532.69 L142.48,533.02 L143.02,533.03 L143.57,532.71 L144.11,532.88 L144.66,532.6 L145.2,533.02 L145.75,532.53 L146.29,532.18 L146.84,532.31 L147.38,531.54 L147.93,531.88 L148.47,531.86 L149.01,531.36 L149.56,531.85 L150.1,531.29 L150.65,531.88 L151.19,530.92 L151.74,531.22 L152.28,531.28 L152.83,531.28 L153.37,530.44 L153.92,530.77 L154.46,530.3 L155,530.22 L155.55,530.77 L156.09,530.38 L156.64,530.73 L157.18,530.77 L157.73,530.53 L158.27,530.43 L158.82,530.47 L159.36,530.71 L159.91,530.6 L160.45,530.58 L161,530.48 L161.54,530.35 L162.08,530.04 L162.63,530.71 L163.17,530.37 L163.72,529.85 L164.26,529.98 L164.81,529.78 L165.35,529.64 L165.9,529.96 L166.44,529.94 L166.99,529.84 L167.53,529.38 L168.08,529.86 L168.62,529.24 L169.16,529.79 L169.71,529.7 L170.25,529.51 L170.8,529.4 L171.34,529.06 L171.89,529.74 L172.43,528.97 L172.98,529.41 L173.52,529.18 L174.07,529.36 L174.61,529.17 L175.16,529.19 L175.7,529.12 L176.24,529.33 L176.79,529.32 L177.33,529.26 L177.88,529.24 L178.42,529.04 L178.97,529.21 L179.51,529.66 L180.06,529.13 L180.6,528.57 L181.15,529.2 L181.69,528.95 L182.24,528.77 L182.78,528.74 L183.32,528.9 L183.87,528.7 L184.41,528.87 L184.96,529.04 L185.5,528.73 L186.05,528.35 L186.59,528.75 L187.14,528.72 L187.68,529.09 L188.23,528.73 L188.77,528.68 L189.31,529.07 L189.86,528.97 L190.4,528.55 L190.95,528.97 L191.49,528.42 L192.04,528.68 L192.58,528.45 L193.13,528.65 L193.67,528.95 L194.22,528.51 L194.76,528.82 L195.31,528.91 L195.85,528.41 L196.39,528.47 L196.94,528.74 L197.48,528.51 L198.03,528.71 L198.57,528.9 L199.12,528.42 L199.66,528.17 L200.21,528.28 L200.75,528.54 L201.3,527.91 L201.84,528.15 L202.39,528.14 L202.93,528.88 L203.47,528.53 L204.02,528.42 L204.56,527.88 L205.11,528.63 L205.65,528 L206.2,528.39 L206.74,528.16 L207.29,527.91 L207.83,527.78 L208.38,528.73 L208.92,528.37 L209.46,528.66 L210.01,528.28 L210.55,528.52 L211.1,528.26 L211.64,528.48 L212.19,527.83 L212.73,527.88 L213.28,528.33 L213.82,528.55 L214.37,527.93 L214.91,528.35 L215.46,528.13 L216,528.58 L216.54,528.8 L217.09,528.53 L217.63,528.42 L218.18,528.56 L218.72,528.9 L219.27,528.48 L219.81,528.1 L220.36,528.85 L220.9,528.64 L221.45,528.52 L221.99,528.45 L222.54,527.96 L223.08,528.62 L223.62,528.33 L224.17,528.66 L224.71,528.55 L225.26,528.64 L225.8,528.46 L226.35,528.21 L226.89,528.64 L227.44,528.36 L227.98,528.46 L228.53,528.31 L229.07,528.96 L229.62,528.32 L230.16,528.82 L230.7,528.44 L231.25,528.37 L231.79,528.42 L232.34,528.95 L232.88,527.96 L233.43,528.63 L233.97,528.78 L234.52,528 L235.06,528.31 L235.61,528.82 L236.15,528.36 L236.69,528.24 L236.69,535.39 L236.15,534.78 L235.61,535.37 L235.06,535.71 L234.52,535.5 L233.97,534.98 L233.43,535.5 L232.88,535.15 L232.34,535.18 L231.79,535.81 L231.25,535.2 L230.7,534.99 L230.16,535.32 L229.62,535.4 L229.07,535.33 L228.53,534.9 L227.98,535.14 L227.44,535.29 L226.89,535.42 L226.35,535.65 L225.8,535.02 L225.26,534.97 L224.71,534.88 L224.17,535.06 L223.62,535.93 L223.08,535.13 L222.54,535.43 L221.99,534.88 L221.45,535.27 L220.9,535.26 L220.36,535.41 L219.81,535.34 L219.27,535.16 L218.72,535.27 L218.18,534.83 L217.63,535.52 L217.09,535.36 L216.54,535.07 L216,535.55 L215.46,535.61 L214.91,535.68 L214.37,535.47 L213.82,535.01 L213.28,534.9 L212.73,535.39 L212.19,535.2 L211.64,534.75 L211.1,535.06 L210.55,535.55 L210.01,535.03 L209.46,535.27 L208.92,535.57 L208.38,535.1 L207.83,535.03 L207.29,535.28 L206.74,534.84 L206.2,535.01 L205.65,534.89 L205.11,534.86 L204.56,535.33 L204.02,535.6 L203.47,535.44 L202.93,535.27 L202.39,535.07 L201.84,535.16 L201.3,535.43 L200.75,535.11 L200.21,535.84 L199.66,535.01 L199.12,535.93 L198.57,535.38 L198.03,535.08 L197.48,535.36 L196.94,535.35 L196.39,535.64 L195.85,534.99 L195.31,535.13 L194.76,535.45 L194.22,535.07 L193.67,535.25 L193.13,535.72 L192.58,535.6 L192.04,535.41 L191.49,535.99 L190.95,535.46 L190.4,535.12 L189.86,535.52 L189.31,535.37 L188.77,535.63 L188.23,535.98 L187.68,535.3 L187.14,535.88 L186.59,535.82 L186.05,535.72 L185.5,535.43 L184.96,535.28 L184.41,536.05 L183.87,536.15 L183.32,536.26 L182.78,536.11 L182.24,535.7 L181.69,536.28 L181.15,536.27 L180.6,535.94 L180.06,536.23 L179.51,536.07 L178.97,535.86 L178.42,536.47 L177.88,536.36 L177.33,536.2 L176.79,535.85 L176.24,535.57 L175.7,535.88 L175.16,535.76 L174.61,536.07 L174.07,536.26 L173.52,535.92 L172.98,536.11 L172.43,536.52 L171.89,536.71 L171.34,536.61 L170.8,536.23 L170.25,536.36 L169.71,536.24 L169.16,536.93 L168.62,536.62 L168.08,536.29 L167.53,536.62 L166.99,536.22 L166.44,536.63 L165.9,537.05 L165.35,537.01 L164.81,537.36 L164.26,536.89 L163.72,537.22 L163.17,537.17 L162.63,537.06 L162.08,536.91 L161.54,537.33 L161,536.7 L160.45,536.8 L159.91,537.04 L159.36,537.32 L158.82,537.1 L158.27,536.91 L157.73,536.96 L157.18,537.3 L156.64,537.11 L156.09,537.88 L155.55,537.45 L155,537.62 L154.46,537.7 L153.92,538.1 L153.37,537.96 L152.83,538.07 L152.28,537.56 L151.74,538.4 L151.19,538.4 L150.65,538.45 L150.1,538.77 L149.56,538.23 L149.01,538.65 L148.47,538.43 L147.93,539.44 L147.38,539.12 L146.84,539.23 L146.29,538.84 L145.75,539.34 L145.2,539.25 L144.66,539.25 L144.11,539.56 L143.57,539.51 L143.02,540.39 L142.48,539.9 L141.93,540.22 L141.39,540.73 L140.85,540.13 L140.3,540.33 L139.76,540.93 L139.21,540.45 L138.67,540.25 L138.12,540.53 L137.58,540.85 L137.03,541.46 L136.49,541.53 L135.94,542.13 L135.4,542.37 L134.85,542.38 L134.31,542.85 L133.77,543.1 L133.22,543.56 L132.68,543.89 L132.13,544.16 L131.59,544 L131.04,544.44 L130.5,545.18 L129.95,545.24 L129.41,545.9 L128.86,545.89 L128.32,546.4 L127.78,546.62 L127.23,546.94 L126.69,547.67 L126.14,548.05 L125.6,548.3 L125.05,548.01 L124.51,548.36 L123.96,548.25 L123.42,547.55 L122.87,546.56 L122.33,546.04 L121.78,545.47 L121.24,544.77 L120.7,544.17 L120.15,542.56 L119.61,542.39 L119.06,542.81 L118.52,542.4 L117.97,542.81 L117.43,541.85 L116.88,542.19 L116.34,542.5 L115.79,542.43 L115.25,542.29 L114.7,542.16 L114.16,542.28 L113.62,542.59 L113.07,542.01 L112.53,542.45 L111.98,542.34 L111.44,542.5 L110.89,541.75 L110.35,541.78 L109.8,542.32 L109.26,542.74 L108.71,542.38 L108.17,542.13 L107.62,541.7 L107.08,541.72 L106.54,541.98 L105.99,542.49 L105.45,542.56 L104.9,542.66 L104.36,541.84 L103.81,542.35 L103.27,542.12 L102.72,541.89 L102.18,542.48 L101.63,542.48 L101.09,541.82 L100.55,541.89 L100,542.15 L99.46,542.08 L98.91,541.86 L98.37,541.59 L97.82,542.09 L97.28,542.67 L96.73,541.77 L96.19,541.86 L95.64,541.94 L95.1,542.09 L94.55,541.78 L94.01,541.57 L93.47,541.7 L92.92,541.7 L92.38,541.55 L91.83,541.97 L91.29,541.97 L90.74,542.54 L90.2,542.54 L89.65,541.9 L89.11,542.2 L88.56,542.51 L88.02,542.07 L87.47,541.75 L86.93,541.99 L86.39,541.93 L85.84,541.72 L85.3,542.13 L84.75,542.28 L84.21,541.9 L83.66,542.54 L83.12,542.39 L82.57,541.81 L82.03,542.29 L81.48,541.69 L80.94,542.01 L80.39,541.62 L79.85,541.78 L79.31,542.14 L78.76,542.13 L78.22,542.52 L77.67,541.96 L77.13,542.18 L76.58,542.6 L76.04,542.1 L75.49,542.26 L74.95,542.18 L74.4,542.29 L73.86,541.92 L73.31,541.86 L72.77,542.21 L72.23,542.1 L71.68,542.06 L71.14,542.35 L70.59,541.97 L70.05,542.39 L69.5,541.9 L68.96,542.02 L68.41,542.13 L67.87,541.6 L67.32,541.79 L66.78,542.06 L66.24,541.93 L65.69,542.17 L65.15,541.58 L64.6,542.13 L64.06,542.03 L63.51,542.03 L62.97,542.45 L62.42,541.64 L61.88,542.24 L61.33,541.51 L60.79,541.73 L60.24,541.79 L59.7,541.98 L59.16,541.84 L58.61,541.7Z" fill="#1495c9"/>
<path d="M121.2,541 L121.6,549.4" stroke="#7cc3e4" stroke-width="1.2"/>
<defs><clipPath id="dclip"><rect x="54.6" y="393.3" width="181.4" height="156"/></clipPath></defs>
<path clip-path="url(#dclip)" d="M63.09,536.36 L61.44,539.22 L58.14,539.22 L56.49,536.36 L58.14,533.51 L61.44,533.51ZM63.3,536.16 L61.65,539.02 L58.35,539.02 L56.7,536.16 L58.35,533.3 L61.65,533.3ZM63.38,535.73 L61.73,538.59 L58.43,538.59 L56.78,535.73 L58.43,532.87 L61.73,532.87ZM63.7,536.09 L62.05,538.95 L58.75,538.95 L57.1,536.09 L58.75,533.23 L62.05,533.23ZM64.21,536.86 L62.56,539.72 L59.26,539.72 L57.61,536.86 L59.26,534 L62.56,534ZM64.41,536.5 L62.76,539.36 L59.46,539.36 L57.81,536.5 L59.46,533.64 L62.76,533.64ZM64.34,536.7 L62.69,539.56 L59.39,539.56 L57.74,536.7 L59.39,533.84 L62.69,533.84ZM65.18,535.16 L63.53,538.02 L60.23,538.02 L58.58,535.16 L60.23,532.31 L63.53,532.31ZM65.16,535.33 L63.51,538.19 L60.21,538.19 L58.56,535.33 L60.21,532.47 L63.51,532.47ZM65.57,537.15 L63.92,540 L60.62,540 L58.97,537.15 L60.62,534.29 L63.92,534.29ZM65.83,535.99 L64.18,538.85 L60.88,538.85 L59.23,535.99 L60.88,533.13 L64.18,533.13ZM66.25,536.4 L64.6,539.26 L61.3,539.26 L59.65,536.4 L61.3,533.54 L64.6,533.54ZM66.22,535.31 L64.57,538.17 L61.27,538.17 L59.62,535.31 L61.27,532.46 L64.57,532.46ZM66.68,536.87 L65.03,539.73 L61.73,539.73 L60.08,536.87 L61.73,534.01 L65.03,534.01ZM66.7,537 L65.05,539.86 L61.75,539.86 L60.1,537 L61.75,534.14 L65.05,534.14ZM67.24,535.44 L65.59,538.3 L62.29,538.3 L60.64,535.44 L62.29,532.59 L65.59,532.59ZM67.35,534.01 L65.7,536.87 L62.4,536.87 L60.75,534.01 L62.4,531.15 L65.7,531.15ZM67.73,534.91 L66.08,537.77 L62.78,537.77 L61.13,534.91 L62.78,532.05 L66.08,532.05ZM67.73,535.93 L66.08,538.79 L62.78,538.79 L61.13,535.93 L62.78,533.07 L66.08,533.07ZM67.91,534.96 L66.26,537.82 L62.96,537.82 L61.31,534.96 L62.96,532.11 L66.26,532.11ZM68.68,533.62 L67.03,536.48 L63.73,536.48 L62.08,533.62 L63.73,530.76 L67.03,530.76ZM68.98,534.1 L67.33,536.96 L64.03,536.96 L62.38,534.1 L64.03,531.24 L67.33,531.24ZM69.14,536.01 L67.49,538.87 L64.19,538.87 L62.54,536.01 L64.19,533.16 L67.49,533.16ZM69.19,532.88 L67.54,535.74 L64.24,535.74 L62.59,532.88 L64.24,530.02 L67.54,530.02ZM69.24,533.61 L67.59,536.46 L64.29,536.46 L62.64,533.61 L64.29,530.75 L67.59,530.75ZM70.08,532.83 L68.43,535.69 L65.13,535.69 L63.48,532.83 L65.13,529.98 L68.43,529.98ZM69.9,532.54 L68.25,535.4 L64.95,535.4 L63.3,532.54 L64.95,529.68 L68.25,529.68ZM70.55,532.73 L68.9,535.59 L65.6,535.59 L63.95,532.73 L65.6,529.87 L68.9,529.87ZM70.55,534.27 L68.9,537.13 L65.6,537.13 L63.95,534.27 L65.6,531.41 L68.9,531.41ZM71.13,535.19 L69.48,538.05 L66.18,538.05 L64.53,535.19 L66.18,532.33 L69.48,532.33ZM71.36,531.98 L69.71,534.84 L66.41,534.84 L64.76,531.98 L66.41,529.12 L69.71,529.12ZM71.18,533.53 L69.53,536.38 L66.23,536.38 L64.58,533.53 L66.23,530.67 L69.53,530.67ZM71.95,536.4 L70.3,539.25 L67,539.25 L65.35,536.4 L67,533.54 L70.3,533.54ZM72.06,535.28 L70.41,538.14 L67.11,538.14 L65.46,535.28 L67.11,532.43 L70.41,532.43ZM72.15,531.78 L70.5,534.64 L67.2,534.64 L65.55,531.78 L67.2,528.92 L70.5,528.92ZM72.78,534.31 L71.13,537.17 L67.83,537.17 L66.18,534.31 L67.83,531.45 L71.13,531.45ZM72.52,532.61 L70.87,535.47 L67.57,535.47 L65.92,532.61 L67.57,529.75 L70.87,529.75ZM73.35,531.38 L71.7,534.24 L68.4,534.24 L66.75,531.38 L68.4,528.52 L71.7,528.52ZM73.2,533.83 L71.55,536.69 L68.25,536.69 L66.6,533.83 L68.25,530.98 L71.55,530.98ZM73.88,531.66 L72.23,534.52 L68.93,534.52 L67.28,531.66 L68.93,528.8 L72.23,528.8ZM74.04,530.93 L72.39,533.78 L69.09,533.78 L67.44,530.93 L69.09,528.07 L72.39,528.07ZM74.23,533.07 L72.58,535.93 L69.28,535.93 L67.63,533.07 L69.28,530.21 L72.58,530.21ZM74.61,532.4 L72.96,535.26 L69.66,535.26 L68.01,532.4 L69.66,529.54 L72.96,529.54ZM74.56,533.25 L72.91,536.1 L69.61,536.1 L67.96,533.25 L69.61,530.39 L72.91,530.39ZM74.88,532.37 L73.23,535.22 L69.93,535.22 L68.28,532.37 L69.93,529.51 L73.23,529.51ZM75.55,533.76 L73.9,536.61 L70.6,536.61 L68.95,533.76 L70.6,530.9 L73.9,530.9ZM75.52,530.79 L73.87,533.65 L70.57,533.65 L68.92,530.79 L70.57,527.94 L73.87,527.94ZM75.64,532.14 L73.99,534.99 L70.69,534.99 L69.04,532.14 L70.69,529.28 L73.99,529.28ZM76.17,530.71 L74.52,533.57 L71.22,533.57 L69.57,530.71 L71.22,527.85 L74.52,527.85ZM76.44,532.21 L74.79,535.07 L71.49,535.07 L69.84,532.21 L71.49,529.35 L74.79,529.35ZM76.49,529.59 L74.84,532.45 L71.54,532.45 L69.89,529.59 L71.54,526.73 L74.84,526.73ZM77.03,531.09 L75.38,533.95 L72.08,533.95 L70.43,531.09 L72.08,528.24 L75.38,528.24ZM76.95,530.56 L75.3,533.41 L72,533.41 L70.35,530.56 L72,527.7 L75.3,527.7ZM77.33,532.84 L75.68,535.7 L72.38,535.7 L70.73,532.84 L72.38,529.99 L75.68,529.99ZM77.71,530.01 L76.06,532.87 L72.76,532.87 L71.11,530.01 L72.76,527.15 L76.06,527.15ZM78.07,529.28 L76.42,532.13 L73.12,532.13 L71.47,529.28 L73.12,526.42 L76.42,526.42ZM78.44,535.57 L76.79,538.43 L73.49,538.43 L71.84,535.57 L73.49,532.72 L76.79,532.72ZM78.25,532.35 L76.6,535.21 L73.3,535.21 L71.65,532.35 L73.3,529.49 L76.6,529.49ZM79.08,529.99 L77.43,532.85 L74.13,532.85 L72.48,529.99 L74.13,527.13 L77.43,527.13ZM78.99,530.5 L77.34,533.36 L74.04,533.36 L72.39,530.5 L74.04,527.65 L77.34,527.65ZM79.19,532.39 L77.54,535.25 L74.24,535.25 L72.59,532.39 L74.24,529.54 L77.54,529.54ZM79.37,531.67 L77.72,534.53 L74.42,534.53 L72.77,531.67 L74.42,528.81 L77.72,528.81ZM79.71,530.33 L78.06,533.19 L74.76,533.19 L73.11,530.33 L74.76,527.48 L78.06,527.48ZM80.01,529.86 L78.36,532.72 L75.06,532.72 L73.41,529.86 L75.06,527 L78.36,527ZM80.25,530.19 L78.6,533.05 L75.3,533.05 L73.65,530.19 L75.3,527.33 L78.6,527.33ZM80.51,530.61 L78.86,533.47 L75.56,533.47 L73.91,530.61 L75.56,527.75 L78.86,527.75ZM81,531.92 L79.35,534.78 L76.05,534.78 L74.4,531.92 L76.05,529.06 L79.35,529.06ZM81.27,529.15 L79.62,532.01 L76.32,532.01 L74.67,529.15 L76.32,526.29 L79.62,526.29ZM81.63,530.94 L79.98,533.79 L76.68,533.79 L75.03,530.94 L76.68,528.08 L79.98,528.08ZM82.06,530.05 L80.41,532.91 L77.11,532.91 L75.46,530.05 L77.11,527.19 L80.41,527.19ZM81.98,528.12 L80.33,530.98 L77.03,530.98 L75.38,528.12 L77.03,525.26 L80.33,525.26ZM82.63,528.63 L80.98,531.49 L77.68,531.49 L76.03,528.63 L77.68,525.77 L80.98,525.77ZM82.43,531.58 L80.78,534.44 L77.48,534.44 L75.83,531.58 L77.48,528.72 L80.78,528.72ZM82.83,527.06 L81.18,529.92 L77.88,529.92 L76.23,527.06 L77.88,524.21 L81.18,524.21ZM83.38,531.47 L81.73,534.32 L78.43,534.32 L76.78,531.47 L78.43,528.61 L81.73,528.61ZM83.45,528.82 L81.8,531.68 L78.5,531.68 L76.85,528.82 L78.5,525.96 L81.8,525.96ZM83.45,529.95 L81.8,532.81 L78.5,532.81 L76.85,529.95 L78.5,527.09 L81.8,527.09ZM83.97,529.78 L82.32,532.64 L79.02,532.64 L77.37,529.78 L79.02,526.92 L82.32,526.92ZM84.49,529.49 L82.84,532.35 L79.54,532.35 L77.89,529.49 L79.54,526.64 L82.84,526.64ZM84.69,527 L83.04,529.86 L79.74,529.86 L78.09,527 L79.74,524.14 L83.04,524.14ZM85.05,533.21 L83.4,536.07 L80.1,536.07 L78.45,533.21 L80.1,530.36 L83.4,530.36ZM84.79,532.7 L83.14,535.56 L79.84,535.56 L78.19,532.7 L79.84,529.84 L83.14,529.84ZM85.57,532.2 L83.92,535.06 L80.62,535.06 L78.97,532.2 L80.62,529.34 L83.92,529.34ZM85.4,529.57 L83.75,532.42 L80.45,532.42 L78.8,529.57 L80.45,526.71 L83.75,526.71ZM86.08,532.69 L84.43,535.55 L81.13,535.55 L79.48,532.69 L81.13,529.83 L84.43,529.83ZM86.09,532.2 L84.44,535.06 L81.14,535.06 L79.49,532.2 L81.14,529.34 L84.44,529.34ZM86.19,528.74 L84.54,531.59 L81.24,531.59 L79.59,528.74 L81.24,525.88 L84.54,525.88ZM86.93,527.18 L85.28,530.04 L81.98,530.04 L80.33,527.18 L81.98,524.32 L85.28,524.32ZM87.12,526.51 L85.47,529.37 L82.17,529.37 L80.52,526.51 L82.17,523.65 L85.47,523.65ZM87.01,526.46 L85.36,529.32 L82.06,529.32 L80.41,526.46 L82.06,523.61 L85.36,523.61ZM87.58,529.18 L85.93,532.04 L82.63,532.04 L80.98,529.18 L82.63,526.32 L85.93,526.32ZM87.83,527.3 L86.18,530.16 L82.88,530.16 L81.23,527.3 L82.88,524.45 L86.18,524.45ZM88.02,527.93 L86.37,530.79 L83.07,530.79 L81.42,527.93 L83.07,525.07 L86.37,525.07ZM88.32,530.76 L86.67,533.62 L83.37,533.62 L81.72,530.76 L83.37,527.9 L86.67,527.9ZM88.76,526.86 L87.11,529.72 L83.81,529.72 L82.16,526.86 L83.81,524 L87.11,524ZM88.63,530.16 L86.98,533.01 L83.68,533.01 L82.03,530.16 L83.68,527.3 L86.98,527.3ZM88.9,526.39 L87.25,529.25 L83.95,529.25 L82.3,526.39 L83.95,523.54 L87.25,523.54ZM89.14,527.85 L87.49,530.71 L84.19,530.71 L82.54,527.85 L84.19,524.99 L87.49,524.99ZM89.85,532.5 L88.2,535.35 L84.9,535.35 L83.25,532.5 L84.9,529.64 L88.2,529.64ZM89.88,530.51 L88.23,533.37 L84.93,533.37 L83.28,530.51 L84.93,527.65 L88.23,527.65ZM90.53,535.81 L88.88,538.67 L85.58,538.67 L83.93,535.81 L85.58,532.95 L88.88,532.95ZM90.32,529.89 L88.67,532.74 L85.37,532.74 L83.72,529.89 L85.37,527.03 L88.67,527.03ZM91.05,532.22 L89.4,535.07 L86.1,535.07 L84.45,532.22 L86.1,529.36 L89.4,529.36ZM91.31,535.08 L89.66,537.93 L86.36,537.93 L84.71,535.08 L86.36,532.22 L89.66,532.22ZM91.47,525.92 L89.82,528.78 L86.52,528.78 L84.87,525.92 L86.52,523.06 L89.82,523.06ZM91.46,526.14 L89.81,529 L86.51,529 L84.86,526.14 L86.51,523.28 L89.81,523.28ZM92.12,532.74 L90.47,535.6 L87.17,535.6 L85.52,532.74 L87.17,529.88 L90.47,529.88ZM92.03,528.53 L90.38,531.39 L87.08,531.39 L85.43,528.53 L87.08,525.67 L90.38,525.67ZM92.67,526.44 L91.02,529.3 L87.72,529.3 L86.07,526.44 L87.72,523.58 L91.02,523.58ZM92.48,529.19 L90.83,532.05 L87.53,532.05 L85.88,529.19 L87.53,526.33 L90.83,526.33ZM93.03,532.47 L91.38,535.33 L88.08,535.33 L86.43,532.47 L88.08,529.61 L91.38,529.61ZM93.26,526.8 L91.61,529.65 L88.31,529.65 L86.66,526.8 L88.31,523.94 L91.61,523.94ZM93.26,528.22 L91.61,531.08 L88.31,531.08 L86.66,528.22 L88.31,525.36 L91.61,525.36ZM93.71,532.07 L92.06,534.92 L88.76,534.92 L87.11,532.07 L88.76,529.21 L92.06,529.21ZM94.09,534.47 L92.44,537.33 L89.14,537.33 L87.49,534.47 L89.14,531.61 L92.44,531.61ZM94.28,526.44 L92.63,529.3 L89.33,529.3 L87.68,526.44 L89.33,523.58 L92.63,523.58ZM94.32,525.4 L92.67,528.26 L89.37,528.26 L87.72,525.4 L89.37,522.55 L92.67,522.55ZM95.15,532.98 L93.5,535.84 L90.2,535.84 L88.55,532.98 L90.2,530.12 L93.5,530.12ZM95.02,527.85 L93.37,530.71 L90.07,530.71 L88.42,527.85 L90.07,524.99 L93.37,524.99ZM95.47,525.31 L93.82,528.17 L90.52,528.17 L88.87,525.31 L90.52,522.45 L93.82,522.45ZM95.91,526.49 L94.26,529.34 L90.96,529.34 L89.31,526.49 L90.96,523.63 L94.26,523.63ZM95.66,527.66 L94.01,530.52 L90.71,530.52 L89.06,527.66 L90.71,524.8 L94.01,524.8ZM95.98,524.32 L94.33,527.17 L91.03,527.17 L89.38,524.32 L91.03,521.46 L94.33,521.46ZM96.55,528.33 L94.9,531.19 L91.6,531.19 L89.95,528.33 L91.6,525.47 L94.9,525.47ZM96.75,524.72 L95.1,527.58 L91.8,527.58 L90.15,524.72 L91.8,521.86 L95.1,521.86ZM96.88,524.32 L95.23,527.17 L91.93,527.17 L90.28,524.32 L91.93,521.46 L95.23,521.46ZM97.53,527.14 L95.88,530 L92.58,530 L90.93,527.14 L92.58,524.28 L95.88,524.28ZM97.44,529.25 L95.79,532.11 L92.49,532.11 L90.84,529.25 L92.49,526.39 L95.79,526.39ZM97.89,523.68 L96.24,526.54 L92.94,526.54 L91.29,523.68 L92.94,520.82 L96.24,520.82ZM98.09,525.11 L96.44,527.97 L93.14,527.97 L91.49,525.11 L93.14,522.26 L96.44,522.26ZM98.25,531 L96.6,533.86 L93.3,533.86 L91.65,531 L93.3,528.14 L96.6,528.14ZM98.61,532.93 L96.96,535.79 L93.66,535.79 L92.01,532.93 L93.66,530.08 L96.96,530.08ZM98.65,527.61 L97,530.47 L93.7,530.47 L92.05,527.61 L93.7,524.75 L97,524.75ZM99,526.47 L97.35,529.32 L94.05,529.32 L92.4,526.47 L94.05,523.61 L97.35,523.61ZM99.49,523.69 L97.84,526.55 L94.54,526.55 L92.89,523.69 L94.54,520.84 L97.84,520.84ZM99.57,527.26 L97.92,530.11 L94.62,530.11 L92.97,527.26 L94.62,524.4 L97.92,524.4ZM100.27,524.4 L98.62,527.26 L95.32,527.26 L93.67,524.4 L95.32,521.54 L98.62,521.54ZM100.01,528.79 L98.36,531.64 L95.06,531.64 L93.41,528.79 L95.06,525.93 L98.36,525.93ZM100.56,529.53 L98.91,532.39 L95.61,532.39 L93.96,529.53 L95.61,526.67 L98.91,526.67ZM100.69,528.18 L99.04,531.04 L95.74,531.04 L94.09,528.18 L95.74,525.32 L99.04,525.32ZM101.02,522.82 L99.37,525.68 L96.07,525.68 L94.42,522.82 L96.07,519.96 L99.37,519.96ZM101.6,528.17 L99.95,531.03 L96.65,531.03 L95,528.17 L96.65,525.32 L99.95,525.32ZM101.63,530.14 L99.98,533 L96.68,533 L95.03,530.14 L96.68,527.28 L99.98,527.28ZM101.8,528.58 L100.15,531.43 L96.85,531.43 L95.2,528.58 L96.85,525.72 L100.15,525.72ZM102.04,526.69 L100.39,529.55 L97.09,529.55 L95.44,526.69 L97.09,523.83 L100.39,523.83ZM102.33,530.93 L100.68,533.79 L97.38,533.79 L95.73,530.93 L97.38,528.07 L100.68,528.07ZM102.9,527.84 L101.25,530.7 L97.95,530.7 L96.3,527.84 L97.95,524.98 L101.25,524.98ZM102.93,523.29 L101.28,526.15 L97.98,526.15 L96.33,523.29 L97.98,520.43 L101.28,520.43ZM103.38,522.54 L101.73,525.4 L98.43,525.4 L96.78,522.54 L98.43,519.69 L101.73,519.69ZM103.86,527.01 L102.21,529.87 L98.91,529.87 L97.26,527.01 L98.91,524.16 L102.21,524.16ZM103.96,524.34 L102.31,527.2 L99.01,527.2 L97.36,524.34 L99.01,521.49 L102.31,521.49ZM104.25,529.21 L102.6,532.07 L99.3,532.07 L97.65,529.21 L99.3,526.35 L102.6,526.35ZM104.46,526.26 L102.81,529.12 L99.51,529.12 L97.86,526.26 L99.51,523.4 L102.81,523.4ZM104.45,521.17 L102.8,524.03 L99.5,524.03 L97.85,521.17 L99.5,518.32 L102.8,518.32ZM104.84,525.24 L103.19,528.1 L99.89,528.1 L98.24,525.24 L99.89,522.38 L103.19,522.38ZM105.32,521.7 L103.67,524.56 L100.37,524.56 L98.72,521.7 L100.37,518.84 L103.67,518.84ZM105.62,526.06 L103.97,528.92 L100.67,528.92 L99.02,526.06 L100.67,523.21 L103.97,523.21ZM105.67,521.24 L104.02,524.1 L100.72,524.1 L99.07,521.24 L100.72,518.39 L104.02,518.39ZM106.26,528.59 L104.61,531.45 L101.31,531.45 L99.66,528.59 L101.31,525.73 L104.61,525.73ZM106.54,521.3 L104.89,524.16 L101.59,524.16 L99.94,521.3 L101.59,518.44 L104.89,518.44ZM106.34,531.46 L104.69,534.32 L101.39,534.32 L99.74,531.46 L101.39,528.6 L104.69,528.6ZM107.03,521.27 L105.38,524.13 L102.08,524.13 L100.43,521.27 L102.08,518.41 L105.38,518.41ZM107.19,526.17 L105.54,529.03 L102.24,529.03 L100.59,526.17 L102.24,523.31 L105.54,523.31ZM107.54,523.1 L105.89,525.96 L102.59,525.96 L100.94,523.1 L102.59,520.24 L105.89,520.24ZM107.37,524.02 L105.72,526.88 L102.42,526.88 L100.77,524.02 L102.42,521.16 L105.72,521.16ZM107.85,525.7 L106.2,528.56 L102.9,528.56 L101.25,525.7 L102.9,522.85 L106.2,522.85ZM108.2,523 L106.55,525.86 L103.25,525.86 L101.6,523 L103.25,520.14 L106.55,520.14ZM108.19,529.18 L106.54,532.04 L103.24,532.04 L101.59,529.18 L103.24,526.32 L106.54,526.32ZM108.91,523.86 L107.26,526.72 L103.96,526.72 L102.31,523.86 L103.96,521 L107.26,521ZM109.04,523.29 L107.39,526.15 L104.09,526.15 L102.44,523.29 L104.09,520.43 L107.39,520.43ZM109.05,522.34 L107.4,525.2 L104.1,525.2 L102.45,522.34 L104.1,519.48 L107.4,519.48ZM109.38,528.77 L107.73,531.63 L104.43,531.63 L102.78,528.77 L104.43,525.91 L107.73,525.91ZM109.54,527.98 L107.89,530.84 L104.59,530.84 L102.94,527.98 L104.59,525.12 L107.89,525.12ZM110.29,524.74 L108.64,527.6 L105.34,527.6 L103.69,524.74 L105.34,521.88 L108.64,521.88ZM110.29,522.25 L108.64,525.11 L105.34,525.11 L103.69,522.25 L105.34,519.39 L108.64,519.39ZM110.52,533.23 L108.87,536.08 L105.57,536.08 L103.92,533.23 L105.57,530.37 L108.87,530.37ZM110.92,522.48 L109.27,525.34 L105.97,525.34 L104.32,522.48 L105.97,519.63 L109.27,519.63ZM110.95,521.96 L109.3,524.82 L106,524.82 L104.35,521.96 L106,519.1 L109.3,519.1ZM111.64,528.4 L109.99,531.26 L106.69,531.26 L105.04,528.4 L106.69,525.55 L109.99,525.55ZM111.68,526.38 L110.03,529.24 L106.73,529.24 L105.08,526.38 L106.73,523.52 L110.03,523.52ZM111.77,523.96 L110.12,526.82 L106.82,526.82 L105.17,523.96 L106.82,521.1 L110.12,521.1ZM112.14,530.78 L110.49,533.63 L107.19,533.63 L105.54,530.78 L107.19,527.92 L110.49,527.92ZM112.49,530.04 L110.84,532.9 L107.54,532.9 L105.89,530.04 L107.54,527.19 L110.84,527.19ZM112.85,531.88 L111.2,534.73 L107.9,534.73 L106.25,531.88 L107.9,529.02 L111.2,529.02ZM113.19,528.03 L111.54,530.89 L108.24,530.89 L106.59,528.03 L108.24,525.17 L111.54,525.17ZM113.58,524.38 L111.93,527.24 L108.63,527.24 L106.98,524.38 L108.63,521.52 L111.93,521.52ZM113.45,526.9 L111.8,529.76 L108.5,529.76 L106.85,526.9 L108.5,524.04 L111.8,524.04ZM113.97,524.52 L112.32,527.38 L109.02,527.38 L107.37,524.52 L109.02,521.66 L112.32,521.66ZM114.42,522.33 L112.77,525.18 L109.47,525.18 L107.82,522.33 L109.47,519.47 L112.77,519.47ZM114.59,524.32 L112.94,527.18 L109.64,527.18 L107.99,524.32 L109.64,521.47 L112.94,521.47ZM114.59,530 L112.94,532.86 L109.64,532.86 L107.99,530 L109.64,527.14 L112.94,527.14ZM114.81,523.65 L113.16,526.51 L109.86,526.51 L108.21,523.65 L109.86,520.79 L113.16,520.79ZM115.42,528.07 L113.77,530.93 L110.47,530.93 L108.82,528.07 L110.47,525.21 L113.77,525.21ZM115.31,522.36 L113.66,525.22 L110.36,525.22 L108.71,522.36 L110.36,519.5 L113.66,519.5ZM116,524.19 L114.35,527.05 L111.05,527.05 L109.4,524.19 L111.05,521.33 L114.35,521.33ZM115.92,527.91 L114.27,530.77 L110.97,530.77 L109.32,527.91 L110.97,525.05 L114.27,525.05ZM116.3,527.71 L114.65,530.57 L111.35,530.57 L109.7,527.71 L111.35,524.85 L114.65,524.85ZM116.82,522.16 L115.17,525.02 L111.87,525.02 L110.22,522.16 L111.87,519.3 L115.17,519.3ZM116.99,527.51 L115.34,530.37 L112.04,530.37 L110.39,527.51 L112.04,524.65 L115.34,524.65ZM117.13,527.6 L115.48,530.46 L112.18,530.46 L110.53,527.6 L112.18,524.75 L115.48,524.75ZM117.42,528.23 L115.77,531.09 L112.47,531.09 L110.82,528.23 L112.47,525.37 L115.77,525.37ZM117.68,526.1 L116.03,528.96 L112.73,528.96 L111.08,526.1 L112.73,523.24 L116.03,523.24ZM118.23,522.71 L116.58,525.57 L113.28,525.57 L111.63,522.71 L113.28,519.85 L116.58,519.85ZM118.49,528.88 L116.84,531.74 L113.54,531.74 L111.89,528.88 L113.54,526.02 L116.84,526.02ZM118.52,527.55 L116.87,530.41 L113.57,530.41 L111.92,527.55 L113.57,524.69 L116.87,524.69ZM118.58,523.22 L116.93,526.08 L113.63,526.08 L111.98,523.22 L113.63,520.37 L116.93,520.37ZM119.22,524.26 L117.57,527.11 L114.27,527.11 L112.62,524.26 L114.27,521.4 L117.57,521.4ZM119.34,528.83 L117.69,531.69 L114.39,531.69 L112.74,528.83 L114.39,525.97 L117.69,525.97ZM119.74,526.83 L118.09,529.68 L114.79,529.68 L113.14,526.83 L114.79,523.97 L118.09,523.97ZM120.08,534.98 L118.43,537.84 L115.13,537.84 L113.48,534.98 L115.13,532.12 L118.43,532.12ZM120.47,523.79 L118.82,526.64 L115.52,526.64 L113.87,523.79 L115.52,520.93 L118.82,520.93ZM120.25,521.02 L118.6,523.88 L115.3,523.88 L113.65,521.02 L115.3,518.16 L118.6,518.16ZM120.74,529.58 L119.09,532.44 L115.79,532.44 L114.14,529.58 L115.79,526.72 L119.09,526.72ZM121.02,521.12 L119.37,523.98 L116.07,523.98 L114.42,521.12 L116.07,518.26 L119.37,518.26ZM121.36,528.55 L119.71,531.41 L116.41,531.41 L114.76,528.55 L116.41,525.69 L119.71,525.69ZM121.49,530.68 L119.84,533.53 L116.54,533.53 L114.89,530.68 L116.54,527.82 L119.84,527.82ZM121.75,536.28 L120.1,539.14 L116.8,539.14 L115.15,536.28 L116.8,533.42 L120.1,533.42ZM122,533.97 L120.35,536.83 L117.05,536.83 L115.4,533.97 L117.05,531.11 L120.35,531.11ZM122.07,522.31 L120.42,525.17 L117.12,525.17 L115.47,522.31 L117.12,519.45 L120.42,519.45ZM122.75,523.87 L121.1,526.73 L117.8,526.73 L116.15,523.87 L117.8,521.01 L121.1,521.01ZM123.05,523.97 L121.4,526.83 L118.1,526.83 L116.45,523.97 L118.1,521.12 L121.4,521.12ZM123.01,533.61 L121.36,536.47 L118.06,536.47 L116.41,533.61 L118.06,530.75 L121.36,530.75ZM123.28,530.65 L121.63,533.5 L118.33,533.5 L116.68,530.65 L118.33,527.79 L121.63,527.79ZM123.91,520.53 L122.26,523.39 L118.96,523.39 L117.31,520.53 L118.96,517.67 L122.26,517.67ZM124.03,527.38 L122.38,530.24 L119.08,530.24 L117.43,527.38 L119.08,524.52 L122.38,524.52ZM124.18,521.24 L122.53,524.1 L119.23,524.1 L117.58,521.24 L119.23,518.39 L122.53,518.39ZM124.73,527.51 L123.08,530.37 L119.78,530.37 L118.13,527.51 L119.78,524.65 L123.08,524.65ZM124.59,526.9 L122.94,529.75 L119.64,529.75 L117.99,526.9 L119.64,524.04 L122.94,524.04ZM125.29,531.62 L123.64,534.48 L120.34,534.48 L118.69,531.62 L120.34,528.76 L123.64,528.76ZM125.21,521.58 L123.56,524.44 L120.26,524.44 L118.61,521.58 L120.26,518.72 L123.56,518.72ZM125.76,523.72 L124.11,526.58 L120.81,526.58 L119.16,523.72 L120.81,520.86 L124.11,520.86ZM125.89,523.06 L124.24,525.92 L120.94,525.92 L119.29,523.06 L120.94,520.2 L124.24,520.2ZM126.27,523.7 L124.62,526.56 L121.32,526.56 L119.67,523.7 L121.32,520.85 L124.62,520.85ZM126.66,522.71 L125.01,525.57 L121.71,525.57 L120.06,522.71 L121.71,519.86 L125.01,519.86ZM126.96,519.7 L125.31,522.56 L122.01,522.56 L120.36,519.7 L122.01,516.85 L125.31,516.85ZM127.07,534.1 L125.42,536.96 L122.12,536.96 L120.47,534.1 L122.12,531.24 L125.42,531.24ZM127.36,523.8 L125.71,526.66 L122.41,526.66 L120.76,523.8 L122.41,520.94 L125.71,520.94ZM130.1,489.35 L128.45,492.2 L125.15,492.2 L123.5,489.35 L125.15,486.49 L128.45,486.49ZM130.77,490.1 L129.12,492.95 L125.82,492.95 L124.17,490.1 L125.82,487.24 L129.12,487.24ZM130.87,491.01 L129.22,493.87 L125.92,493.87 L124.27,491.01 L125.92,488.15 L129.22,488.15ZM131.31,488.59 L129.66,491.45 L126.36,491.45 L124.71,488.59 L126.36,485.73 L129.66,485.73ZM131.17,488 L129.52,490.85 L126.22,490.85 L124.57,488 L126.22,485.14 L129.52,485.14ZM131.76,487.15 L130.11,490.01 L126.81,490.01 L125.16,487.15 L126.81,484.29 L130.11,484.29ZM131.92,486.05 L130.27,488.91 L126.97,488.91 L125.32,486.05 L126.97,483.19 L130.27,483.19ZM132.16,485.52 L130.51,488.38 L127.21,488.38 L125.56,485.52 L127.21,482.66 L130.51,482.66ZM132.22,484.53 L130.57,487.38 L127.27,487.38 L125.62,484.53 L127.27,481.67 L130.57,481.67ZM132.73,484.43 L131.08,487.29 L127.78,487.29 L126.13,484.43 L127.78,481.57 L131.08,481.57ZM132.96,486.15 L131.31,489.01 L128.01,489.01 L126.36,486.15 L128.01,483.29 L131.31,483.29ZM133.46,483.38 L131.81,486.24 L128.51,486.24 L126.86,483.38 L128.51,480.52 L131.81,480.52ZM133.8,482.79 L132.15,485.64 L128.85,485.64 L127.2,482.79 L128.85,479.93 L132.15,479.93ZM133.88,482.19 L132.23,485.05 L128.93,485.05 L127.28,482.19 L128.93,479.33 L132.23,479.33ZM134.18,481.81 L132.53,484.67 L129.23,484.67 L127.58,481.81 L129.23,478.95 L132.53,478.95ZM134.35,484.49 L132.7,487.34 L129.4,487.34 L127.75,484.49 L129.4,481.63 L132.7,481.63ZM134.34,481.46 L132.69,484.32 L129.39,484.32 L127.74,481.46 L129.39,478.6 L132.69,478.6ZM134.79,481.43 L133.14,484.29 L129.84,484.29 L128.19,481.43 L129.84,478.57 L133.14,478.57ZM135.14,481.31 L133.49,484.17 L130.19,484.17 L128.54,481.31 L130.19,478.45 L133.49,478.45ZM135.26,480.42 L133.61,483.28 L130.31,483.28 L128.66,480.42 L130.31,477.56 L133.61,477.56ZM135.74,479.94 L134.09,482.8 L130.79,482.8 L129.14,479.94 L130.79,477.08 L134.09,477.08ZM135.92,481.82 L134.27,484.67 L130.97,484.67 L129.32,481.82 L130.97,478.96 L134.27,478.96ZM136.53,480.31 L134.88,483.17 L131.58,483.17 L129.93,480.31 L131.58,477.46 L134.88,477.46ZM136.42,479.15 L134.77,482.01 L131.47,482.01 L129.82,479.15 L131.47,476.29 L134.77,476.29ZM136.87,479.53 L135.22,482.39 L131.92,482.39 L130.27,479.53 L131.92,476.67 L135.22,476.67ZM137.3,480.08 L135.65,482.94 L132.35,482.94 L130.7,480.08 L132.35,477.22 L135.65,477.22ZM137.04,478.5 L135.39,481.36 L132.09,481.36 L130.44,478.5 L132.09,475.65 L135.39,475.65ZM137.68,477.15 L136.03,480.01 L132.73,480.01 L131.08,477.15 L132.73,474.3 L136.03,474.3ZM138.13,477.34 L136.48,480.2 L133.18,480.2 L131.53,477.34 L133.18,474.48 L136.48,474.48ZM138.23,476.91 L136.58,479.77 L133.28,479.77 L131.63,476.91 L133.28,474.05 L136.58,474.05ZM138.54,476.68 L136.89,479.53 L133.59,479.53 L131.94,476.68 L133.59,473.82 L136.89,473.82ZM138.67,475.71 L137.02,478.57 L133.72,478.57 L132.07,475.71 L133.72,472.86 L137.02,472.86ZM138.69,476.42 L137.04,479.28 L133.74,479.28 L132.09,476.42 L133.74,473.57 L137.04,473.57ZM139.34,475.72 L137.69,478.58 L134.39,478.58 L132.74,475.72 L134.39,472.86 L137.69,472.86ZM139.69,474.77 L138.04,477.63 L134.74,477.63 L133.09,474.77 L134.74,471.91 L138.04,471.91ZM139.74,475.26 L138.09,478.12 L134.79,478.12 L133.14,475.26 L134.79,472.4 L138.09,472.4ZM140.15,473.99 L138.5,476.85 L135.2,476.85 L133.55,473.99 L135.2,471.13 L138.5,471.13ZM140.06,475.7 L138.41,478.56 L135.11,478.56 L133.46,475.7 L135.11,472.84 L138.41,472.84ZM140.65,473.1 L139,475.96 L135.7,475.96 L134.05,473.1 L135.7,470.24 L139,470.24ZM140.59,473.81 L138.94,476.67 L135.64,476.67 L133.99,473.81 L135.64,470.95 L138.94,470.95ZM141.41,472.61 L139.76,475.47 L136.46,475.47 L134.81,472.61 L136.46,469.75 L139.76,469.75ZM141.37,473.21 L139.72,476.07 L136.42,476.07 L134.77,473.21 L136.42,470.35 L139.72,470.35ZM141.52,471.63 L139.87,474.49 L136.57,474.49 L134.92,471.63 L136.57,468.77 L139.87,468.77ZM142.08,471.31 L140.43,474.16 L137.13,474.16 L135.48,471.31 L137.13,468.45 L140.43,468.45ZM141.99,470.91 L140.34,473.77 L137.04,473.77 L135.39,470.91 L137.04,468.06 L140.34,468.06ZM142.64,471.58 L140.99,474.43 L137.69,474.43 L136.04,471.58 L137.69,468.72 L140.99,468.72ZM142.6,470.27 L140.95,473.13 L137.65,473.13 L136,470.27 L137.65,467.42 L140.95,467.42ZM143.18,469.79 L141.53,472.64 L138.23,472.64 L136.58,469.79 L138.23,466.93 L141.53,466.93ZM143.08,470.43 L141.43,473.28 L138.13,473.28 L136.48,470.43 L138.13,467.57 L141.43,467.57ZM143.58,469.67 L141.93,472.53 L138.63,472.53 L136.98,469.67 L138.63,466.81 L141.93,466.81ZM144,471.91 L142.35,474.77 L139.05,474.77 L137.4,471.91 L139.05,469.05 L142.35,469.05ZM144.34,469.88 L142.69,472.73 L139.39,472.73 L137.74,469.88 L139.39,467.02 L142.69,467.02ZM144.22,469.82 L142.57,472.68 L139.27,472.68 L137.62,469.82 L139.27,466.96 L142.57,466.96ZM144.43,469.14 L142.78,472 L139.48,472 L137.83,469.14 L139.48,466.28 L142.78,466.28ZM144.93,468.13 L143.28,470.99 L139.98,470.99 L138.33,468.13 L139.98,465.27 L143.28,465.27ZM145.15,469.93 L143.5,472.79 L140.2,472.79 L138.55,469.93 L140.2,467.07 L143.5,467.07ZM145.46,468.05 L143.81,470.91 L140.51,470.91 L138.86,468.05 L140.51,465.19 L143.81,465.19ZM146.05,467.44 L144.4,470.3 L141.1,470.3 L139.45,467.44 L141.1,464.59 L144.4,464.59ZM145.93,467.82 L144.28,470.68 L140.98,470.68 L139.33,467.82 L140.98,464.96 L144.28,464.96ZM146.45,466.7 L144.8,469.55 L141.5,469.55 L139.85,466.7 L141.5,463.84 L144.8,463.84ZM146.88,468.64 L145.23,471.5 L141.93,471.5 L140.28,468.64 L141.93,465.79 L145.23,465.79ZM146.75,467.21 L145.1,470.06 L141.8,470.06 L140.15,467.21 L141.8,464.35 L145.1,464.35ZM147.07,466.32 L145.42,469.18 L142.12,469.18 L140.47,466.32 L142.12,463.46 L145.42,463.46ZM147.65,466.47 L146,469.33 L142.7,469.33 L141.05,466.47 L142.7,463.61 L146,463.61ZM147.54,466.46 L145.89,469.32 L142.59,469.32 L140.94,466.46 L142.59,463.6 L145.89,463.6ZM148.15,465.6 L146.5,468.46 L143.2,468.46 L141.55,465.6 L143.2,462.74 L146.5,462.74ZM148.42,467.81 L146.77,470.67 L143.47,470.67 L141.82,467.81 L143.47,464.95 L146.77,464.95ZM148.37,465.87 L146.72,468.73 L143.42,468.73 L141.77,465.87 L143.42,463.01 L146.72,463.01ZM148.89,465.6 L147.24,468.46 L143.94,468.46 L142.29,465.6 L143.94,462.75 L147.24,462.75ZM149.08,465.67 L147.43,468.52 L144.13,468.52 L142.48,465.67 L144.13,462.81 L147.43,462.81ZM149.58,466.53 L147.93,469.39 L144.63,469.39 L142.98,466.53 L144.63,463.67 L147.93,463.67ZM149.7,463.98 L148.05,466.83 L144.75,466.83 L143.1,463.98 L144.75,461.12 L148.05,461.12ZM150.01,464.52 L148.36,467.38 L145.06,467.38 L143.41,464.52 L145.06,461.66 L148.36,461.66ZM149.89,464.32 L148.24,467.17 L144.94,467.17 L143.29,464.32 L144.94,461.46 L148.24,461.46ZM150.25,464.11 L148.6,466.97 L145.3,466.97 L143.65,464.11 L145.3,461.25 L148.6,461.25ZM150.91,463.47 L149.26,466.33 L145.96,466.33 L144.31,463.47 L145.96,460.62 L149.26,460.62ZM151.01,463.15 L149.36,466.01 L146.06,466.01 L144.41,463.15 L146.06,460.29 L149.36,460.29ZM151.35,462.88 L149.7,465.74 L146.4,465.74 L144.75,462.88 L146.4,460.02 L149.7,460.02ZM151.44,462.46 L149.79,465.32 L146.49,465.32 L144.84,462.46 L146.49,459.6 L149.79,459.6ZM152.07,462.52 L150.42,465.38 L147.12,465.38 L145.47,462.52 L147.12,459.67 L150.42,459.67ZM152.21,463.27 L150.56,466.13 L147.26,466.13 L145.61,463.27 L147.26,460.41 L150.56,460.41ZM152.22,461.55 L150.57,464.41 L147.27,464.41 L145.62,461.55 L147.27,458.69 L150.57,458.69ZM152.88,461.8 L151.23,464.66 L147.93,464.66 L146.28,461.8 L147.93,458.94 L151.23,458.94ZM152.9,462.12 L151.25,464.98 L147.95,464.98 L146.3,462.12 L147.95,459.26 L151.25,459.26ZM153.09,460.93 L151.44,463.79 L148.14,463.79 L146.49,460.93 L148.14,458.07 L151.44,458.07ZM153.59,461.82 L151.94,464.68 L148.64,464.68 L146.99,461.82 L148.64,458.96 L151.94,458.96ZM153.5,461.7 L151.85,464.56 L148.55,464.56 L146.9,461.7 L148.55,458.84 L151.85,458.84ZM153.98,460.23 L152.33,463.09 L149.03,463.09 L147.38,460.23 L149.03,457.37 L152.33,457.37ZM154.49,460.92 L152.84,463.77 L149.54,463.77 L147.89,460.92 L149.54,458.06 L152.84,458.06ZM154.43,461.94 L152.78,464.8 L149.48,464.8 L147.83,461.94 L149.48,459.08 L152.78,459.08ZM154.62,459.32 L152.97,462.17 L149.67,462.17 L148.02,459.32 L149.67,456.46 L152.97,456.46ZM155.31,459.58 L153.66,462.44 L150.36,462.44 L148.71,459.58 L150.36,456.72 L153.66,456.72ZM155.28,459.51 L153.63,462.36 L150.33,462.36 L148.68,459.51 L150.33,456.65 L153.63,456.65ZM155.88,458.57 L154.23,461.43 L150.93,461.43 L149.28,458.57 L150.93,455.72 L154.23,455.72ZM155.77,458.88 L154.12,461.74 L150.82,461.74 L149.17,458.88 L150.82,456.02 L154.12,456.02ZM156.33,459.2 L154.68,462.06 L151.38,462.06 L149.73,459.2 L151.38,456.35 L154.68,456.35ZM156.52,457.74 L154.87,460.6 L151.57,460.6 L149.92,457.74 L151.57,454.88 L154.87,454.88ZM156.4,458.19 L154.75,461.05 L151.45,461.05 L149.8,458.19 L151.45,455.33 L154.75,455.33ZM157.21,457.28 L155.56,460.14 L152.26,460.14 L150.61,457.28 L152.26,454.42 L155.56,454.42ZM157.37,458.92 L155.72,461.77 L152.42,461.77 L150.77,458.92 L152.42,456.06 L155.72,456.06ZM157.26,457.25 L155.61,460.11 L152.31,460.11 L150.66,457.25 L152.31,454.4 L155.61,454.4ZM157.55,457.37 L155.9,460.23 L152.6,460.23 L150.95,457.37 L152.6,454.51 L155.9,454.51ZM157.85,458.4 L156.2,461.26 L152.9,461.26 L151.25,458.4 L152.9,455.55 L156.2,455.55ZM158.14,455.94 L156.49,458.8 L153.19,458.8 L151.54,455.94 L153.19,453.08 L156.49,453.08ZM158.81,456.98 L157.16,459.84 L153.86,459.84 L152.21,456.98 L153.86,454.13 L157.16,454.13ZM158.61,455.48 L156.96,458.34 L153.66,458.34 L152.01,455.48 L153.66,452.62 L156.96,452.62ZM159.2,456.46 L157.55,459.32 L154.25,459.32 L152.6,456.46 L154.25,453.61 L157.55,453.61ZM159.38,456.96 L157.73,459.82 L154.43,459.82 L152.78,456.96 L154.43,454.11 L157.73,454.11ZM159.4,455.79 L157.75,458.65 L154.45,458.65 L152.8,455.79 L154.45,452.93 L157.75,452.93ZM159.73,455.25 L158.08,458.11 L154.78,458.11 L153.13,455.25 L154.78,452.39 L158.08,452.39ZM160,456.14 L158.35,459 L155.05,459 L153.4,456.14 L155.05,453.28 L158.35,453.28ZM160.38,454.06 L158.73,456.92 L155.43,456.92 L153.78,454.06 L155.43,451.2 L158.73,451.2ZM160.65,453.71 L159,456.56 L155.7,456.56 L154.05,453.71 L155.7,450.85 L159,450.85ZM160.76,456.59 L159.11,459.44 L155.81,459.44 L154.16,456.59 L155.81,453.73 L159.11,453.73ZM161.13,454.36 L159.48,457.21 L156.18,457.21 L154.53,454.36 L156.18,451.5 L159.48,451.5ZM161.39,453.82 L159.74,456.68 L156.44,456.68 L154.79,453.82 L156.44,450.97 L159.74,450.97ZM162.14,452.89 L160.49,455.75 L157.19,455.75 L155.54,452.89 L157.19,450.03 L160.49,450.03ZM162.35,454.24 L160.7,457.1 L157.4,457.1 L155.75,454.24 L157.4,451.38 L160.7,451.38ZM162.27,452.1 L160.62,454.95 L157.32,454.95 L155.67,452.1 L157.32,449.24 L160.62,449.24ZM162.57,454.89 L160.92,457.75 L157.62,457.75 L155.97,454.89 L157.62,452.03 L160.92,452.03ZM162.95,453.3 L161.3,456.15 L158,456.15 L156.35,453.3 L158,450.44 L161.3,450.44ZM163.45,451.41 L161.8,454.27 L158.5,454.27 L156.85,451.41 L158.5,448.56 L161.8,448.56ZM163.26,451.19 L161.61,454.04 L158.31,454.04 L156.66,451.19 L158.31,448.33 L161.61,448.33ZM163.88,450.9 L162.23,453.75 L158.93,453.75 L157.28,450.9 L158.93,448.04 L162.23,448.04ZM164.09,450.83 L162.44,453.69 L159.14,453.69 L157.49,450.83 L159.14,447.97 L162.44,447.97ZM164.36,451.3 L162.71,454.16 L159.41,454.16 L157.76,451.3 L159.41,448.44 L162.71,448.44ZM164.62,451.12 L162.97,453.98 L159.67,453.98 L158.02,451.12 L159.67,448.26 L162.97,448.26ZM164.79,451.68 L163.14,454.54 L159.84,454.54 L158.19,451.68 L159.84,448.82 L163.14,448.82ZM165.01,452.47 L163.36,455.33 L160.06,455.33 L158.41,452.47 L160.06,449.62 L163.36,449.62ZM165.38,450.96 L163.73,453.82 L160.43,453.82 L158.78,450.96 L160.43,448.1 L163.73,448.1ZM165.64,449.65 L163.99,452.51 L160.69,452.51 L159.04,449.65 L160.69,446.79 L163.99,446.79ZM166.13,451.11 L164.48,453.96 L161.18,453.96 L159.53,451.11 L161.18,448.25 L164.48,448.25ZM166.26,450.4 L164.61,453.26 L161.31,453.26 L159.66,450.4 L161.31,447.55 L164.61,447.55ZM166.44,449.2 L164.79,452.06 L161.49,452.06 L159.84,449.2 L161.49,446.34 L164.79,446.34ZM166.94,451.02 L165.29,453.88 L161.99,453.88 L160.34,451.02 L161.99,448.16 L165.29,448.16ZM166.95,451.56 L165.3,454.41 L162,454.41 L160.35,451.56 L162,448.7 L165.3,448.7ZM167.56,451.48 L165.91,454.34 L162.61,454.34 L160.96,451.48 L162.61,448.63 L165.91,448.63ZM167.58,449.11 L165.93,451.97 L162.63,451.97 L160.98,449.11 L162.63,446.25 L165.93,446.25ZM167.67,450.97 L166.02,453.83 L162.72,453.83 L161.07,450.97 L162.72,448.11 L166.02,448.11ZM168.3,448.91 L166.65,451.77 L163.35,451.77 L161.7,448.91 L163.35,446.05 L166.65,446.05ZM168.2,449.56 L166.55,452.42 L163.25,452.42 L161.6,449.56 L163.25,446.71 L166.55,446.71ZM168.7,448.01 L167.05,450.87 L163.75,450.87 L162.1,448.01 L163.75,445.16 L167.05,445.16ZM168.69,448.42 L167.04,451.28 L163.74,451.28 L162.09,448.42 L163.74,445.56 L167.04,445.56ZM168.92,448.97 L167.27,451.83 L163.97,451.83 L162.32,448.97 L163.97,446.11 L167.27,446.11ZM169.47,447.73 L167.82,450.59 L164.52,450.59 L162.87,447.73 L164.52,444.87 L167.82,444.87ZM169.52,448.66 L167.87,451.52 L164.57,451.52 L162.92,448.66 L164.57,445.8 L167.87,445.8ZM169.8,448.29 L168.15,451.15 L164.85,451.15 L163.2,448.29 L164.85,445.43 L168.15,445.43ZM170.08,448.22 L168.43,451.08 L165.13,451.08 L163.48,448.22 L165.13,445.36 L168.43,445.36ZM170.49,448.7 L168.84,451.56 L165.54,451.56 L163.89,448.7 L165.54,445.84 L168.84,445.84ZM170.85,447.89 L169.2,450.75 L165.9,450.75 L164.25,447.89 L165.9,445.03 L169.2,445.03ZM171.27,447.82 L169.62,450.68 L166.32,450.68 L164.67,447.82 L166.32,444.96 L169.62,444.96ZM171.34,448.37 L169.69,451.23 L166.39,451.23 L164.74,448.37 L166.39,445.52 L169.69,445.52ZM171.9,448.94 L170.25,451.79 L166.95,451.79 L165.3,448.94 L166.95,446.08 L170.25,446.08ZM171.65,448.5 L170,451.36 L166.7,451.36 L165.05,448.5 L166.7,445.65 L170,445.65ZM172.45,447.86 L170.8,450.72 L167.5,450.72 L165.85,447.86 L167.5,445 L170.8,445ZM172.54,447.38 L170.89,450.24 L167.59,450.24 L165.94,447.38 L167.59,444.53 L170.89,444.53ZM172.48,447.48 L170.83,450.34 L167.53,450.34 L165.88,447.48 L167.53,444.63 L170.83,444.63ZM172.72,447.55 L171.07,450.4 L167.77,450.4 L166.12,447.55 L167.77,444.69 L171.07,444.69ZM173.45,447.04 L171.8,449.9 L168.5,449.9 L166.85,447.04 L168.5,444.18 L171.8,444.18ZM173.74,448.79 L172.09,451.65 L168.79,451.65 L167.14,448.79 L168.79,445.94 L172.09,445.94ZM173.55,448.62 L171.9,451.47 L168.6,451.47 L166.95,448.62 L168.6,445.76 L171.9,445.76ZM173.96,449.21 L172.31,452.07 L169.01,452.07 L167.36,449.21 L169.01,446.35 L172.31,446.35ZM174.44,447.54 L172.79,450.4 L169.49,450.4 L167.84,447.54 L169.49,444.68 L172.79,444.68ZM174.6,446.83 L172.95,449.69 L169.65,449.69 L168,446.83 L169.65,443.97 L172.95,443.97ZM175,449.45 L173.35,452.31 L170.05,452.31 L168.4,449.45 L170.05,446.59 L173.35,446.59ZM175.46,446.47 L173.81,449.33 L170.51,449.33 L168.86,446.47 L170.51,443.62 L173.81,443.62ZM175.48,448.17 L173.83,451.03 L170.53,451.03 L168.88,448.17 L170.53,445.32 L173.83,445.32ZM175.61,446.6 L173.96,449.46 L170.66,449.46 L169.01,446.6 L170.66,443.75 L173.96,443.75ZM175.76,447.3 L174.11,450.15 L170.81,450.15 L169.16,447.3 L170.81,444.44 L174.11,444.44ZM176.34,447.17 L174.69,450.03 L171.39,450.03 L169.74,447.17 L171.39,444.32 L174.69,444.32ZM176.37,447.2 L174.72,450.06 L171.42,450.06 L169.77,447.2 L171.42,444.34 L174.72,444.34ZM176.85,447.69 L175.2,450.55 L171.9,450.55 L170.25,447.69 L171.9,444.84 L175.2,444.84ZM176.98,447.26 L175.33,450.12 L172.03,450.12 L170.38,447.26 L172.03,444.4 L175.33,444.4ZM177.3,447.05 L175.65,449.91 L172.35,449.91 L170.7,447.05 L172.35,444.19 L175.65,444.19ZM177.86,447.78 L176.21,450.63 L172.91,450.63 L171.26,447.78 L172.91,444.92 L176.21,444.92ZM177.91,445.86 L176.26,448.72 L172.96,448.72 L171.31,445.86 L172.96,443 L176.26,443ZM178.06,445.9 L176.41,448.76 L173.11,448.76 L171.46,445.9 L173.11,443.04 L176.41,443.04ZM178.68,447.92 L177.03,450.78 L173.73,450.78 L172.08,447.92 L173.73,445.06 L177.03,445.06ZM178.69,447.13 L177.04,449.99 L173.74,449.99 L172.09,447.13 L173.74,444.27 L177.04,444.27ZM179.28,448.04 L177.63,450.9 L174.33,450.9 L172.68,448.04 L174.33,445.18 L177.63,445.18ZM179.18,448.3 L177.53,451.15 L174.23,451.15 L172.58,448.3 L174.23,445.44 L177.53,445.44ZM179.75,447.14 L178.1,449.99 L174.8,449.99 L173.15,447.14 L174.8,444.28 L178.1,444.28ZM179.96,448.15 L178.31,451.01 L175.01,451.01 L173.36,448.15 L175.01,445.29 L178.31,445.29ZM180.07,447.92 L178.42,450.77 L175.12,450.77 L173.47,447.92 L175.12,445.06 L178.42,445.06ZM180.61,448.37 L178.96,451.23 L175.66,451.23 L174.01,448.37 L175.66,445.51 L178.96,445.51ZM180.34,445.76 L178.69,448.62 L175.39,448.62 L173.74,445.76 L175.39,442.9 L178.69,442.9ZM180.9,448.69 L179.25,451.54 L175.95,451.54 L174.3,448.69 L175.95,445.83 L179.25,445.83ZM181.13,450.22 L179.48,453.08 L176.18,453.08 L174.53,450.22 L176.18,447.36 L179.48,447.36ZM181.51,449.23 L179.86,452.09 L176.56,452.09 L174.91,449.23 L176.56,446.37 L179.86,446.37ZM181.7,446.8 L180.05,449.65 L176.75,449.65 L175.1,446.8 L176.75,443.94 L180.05,443.94ZM182.03,449.51 L180.38,452.37 L177.08,452.37 L175.43,449.51 L177.08,446.65 L180.38,446.65ZM182.48,448.58 L180.83,451.44 L177.53,451.44 L175.88,448.58 L177.53,445.73 L180.83,445.73ZM182.35,446.61 L180.7,449.47 L177.4,449.47 L175.75,446.61 L177.4,443.75 L180.7,443.75ZM182.86,447.16 L181.21,450.02 L177.91,450.02 L176.26,447.16 L177.91,444.31 L181.21,444.31ZM182.98,444.51 L181.33,447.36 L178.03,447.36 L176.38,444.51 L178.03,441.65 L181.33,441.65ZM183.63,447.6 L181.98,450.46 L178.68,450.46 L177.03,447.6 L178.68,444.75 L181.98,444.75ZM183.88,443.18 L182.23,446.04 L178.93,446.04 L177.28,443.18 L178.93,440.33 L182.23,440.33ZM183.9,443.75 L182.25,446.61 L178.95,446.61 L177.3,443.75 L178.95,440.9 L182.25,440.9ZM184.2,445.97 L182.55,448.82 L179.25,448.82 L177.6,445.97 L179.25,443.11 L182.55,443.11ZM184.46,445.9 L182.81,448.76 L179.51,448.76 L177.86,445.9 L179.51,443.04 L182.81,443.04ZM184.63,442.6 L182.98,445.45 L179.68,445.45 L178.03,442.6 L179.68,439.74 L182.98,439.74ZM185.26,441.18 L183.61,444.04 L180.31,444.04 L178.66,441.18 L180.31,438.32 L183.61,438.32ZM185.02,440.98 L183.37,443.84 L180.07,443.84 L178.42,440.98 L180.07,438.13 L183.37,438.13ZM185.57,438.26 L183.92,441.12 L180.62,441.12 L178.97,438.26 L180.62,435.41 L183.92,435.41ZM186.09,438.94 L184.44,441.8 L181.14,441.8 L179.49,438.94 L181.14,436.08 L184.44,436.08ZM186.15,437.83 L184.5,440.68 L181.2,440.68 L179.55,437.83 L181.2,434.97 L184.5,434.97ZM186.54,443.34 L184.89,446.19 L181.59,446.19 L179.94,443.34 L181.59,440.48 L184.89,440.48ZM186.82,438.56 L185.17,441.42 L181.87,441.42 L180.22,438.56 L181.87,435.7 L185.17,435.7ZM187.01,439.51 L185.36,442.37 L182.06,442.37 L180.41,439.51 L182.06,436.65 L185.36,436.65ZM187.4,438.32 L185.75,441.18 L182.45,441.18 L180.8,438.32 L182.45,435.46 L185.75,435.46ZM187.45,435.71 L185.8,438.57 L182.5,438.57 L180.85,435.71 L182.5,432.86 L185.8,432.86ZM187.79,435.35 L186.14,438.21 L182.84,438.21 L181.19,435.35 L182.84,432.49 L186.14,432.49ZM188.28,435.45 L186.63,438.31 L183.33,438.31 L181.68,435.45 L183.33,432.59 L186.63,432.59ZM188.43,437.17 L186.78,440.03 L183.48,440.03 L181.83,437.17 L183.48,434.31 L186.78,434.31ZM188.23,433.54 L186.58,436.4 L183.28,436.4 L181.63,433.54 L183.28,430.68 L186.58,430.68ZM188.85,433.54 L187.2,436.4 L183.9,436.4 L182.25,433.54 L183.9,430.68 L187.2,430.68ZM189.11,437.77 L187.46,440.63 L184.16,440.63 L182.51,437.77 L184.16,434.91 L187.46,434.91ZM189.37,433.38 L187.72,436.24 L184.42,436.24 L182.77,433.38 L184.42,430.52 L187.72,430.52ZM189.57,439.16 L187.92,442.02 L184.62,442.02 L182.97,439.16 L184.62,436.3 L187.92,436.3ZM189.66,435.5 L188.01,438.36 L184.71,438.36 L183.06,435.5 L184.71,432.64 L188.01,432.64ZM190.36,434.63 L188.71,437.48 L185.41,437.48 L183.76,434.63 L185.41,431.77 L188.71,431.77ZM190.17,435.65 L188.52,438.51 L185.22,438.51 L183.57,435.65 L185.22,432.8 L188.52,432.8ZM190.6,432.67 L188.95,435.53 L185.65,435.53 L184,432.67 L185.65,429.81 L188.95,429.81ZM190.78,436.52 L189.13,439.38 L185.83,439.38 L184.18,436.52 L185.83,433.67 L189.13,433.67ZM191.3,436.65 L189.65,439.5 L186.35,439.5 L184.7,436.65 L186.35,433.79 L189.65,433.79ZM191.46,433.92 L189.81,436.78 L186.51,436.78 L184.86,433.92 L186.51,431.07 L189.81,431.07ZM191.85,432.78 L190.2,435.64 L186.9,435.64 L185.25,432.78 L186.9,429.93 L190.2,429.93ZM192.14,438.88 L190.49,441.74 L187.19,441.74 L185.54,438.88 L187.19,436.02 L190.49,436.02ZM192.56,436.72 L190.91,439.58 L187.61,439.58 L185.96,436.72 L187.61,433.86 L190.91,433.86ZM192.8,433.8 L191.15,436.65 L187.85,436.65 L186.2,433.8 L187.85,430.94 L191.15,430.94ZM193.16,433.75 L191.51,436.61 L188.21,436.61 L186.56,433.75 L188.21,430.9 L191.51,430.9ZM193.01,434.93 L191.36,437.78 L188.06,437.78 L186.41,434.93 L188.06,432.07 L191.36,432.07ZM193.26,434.26 L191.61,437.12 L188.31,437.12 L186.66,434.26 L188.31,431.4 L191.61,431.4ZM193.69,433.82 L192.04,436.68 L188.74,436.68 L187.09,433.82 L188.74,430.97 L192.04,430.97ZM193.89,437.97 L192.24,440.82 L188.94,440.82 L187.29,437.97 L188.94,435.11 L192.24,435.11ZM194.12,433.31 L192.47,436.16 L189.17,436.16 L187.52,433.31 L189.17,430.45 L192.47,430.45ZM194.45,437.35 L192.8,440.21 L189.5,440.21 L187.85,437.35 L189.5,434.49 L192.8,434.49ZM194.99,434.86 L193.34,437.72 L190.04,437.72 L188.39,434.86 L190.04,432 L193.34,432ZM194.94,434.81 L193.29,437.67 L189.99,437.67 L188.34,434.81 L189.99,431.95 L193.29,431.95ZM195.24,435.91 L193.59,438.77 L190.29,438.77 L188.64,435.91 L190.29,433.05 L193.59,433.05ZM195.37,433.29 L193.72,436.14 L190.42,436.14 L188.77,433.29 L190.42,430.43 L193.72,430.43ZM195.66,433.77 L194.01,436.63 L190.71,436.63 L189.06,433.77 L190.71,430.92 L194.01,430.92ZM196.34,434.77 L194.69,437.62 L191.39,437.62 L189.74,434.77 L191.39,431.91 L194.69,431.91ZM196.56,433.35 L194.91,436.21 L191.61,436.21 L189.96,433.35 L191.61,430.49 L194.91,430.49ZM196.52,434.4 L194.87,437.25 L191.57,437.25 L189.92,434.4 L191.57,431.54 L194.87,431.54ZM196.81,439.07 L195.16,441.93 L191.86,441.93 L190.21,439.07 L191.86,436.21 L195.16,436.21ZM197.1,437.37 L195.45,440.23 L192.15,440.23 L190.5,437.37 L192.15,434.51 L195.45,434.51ZM197.44,438.59 L195.79,441.45 L192.49,441.45 L190.84,438.59 L192.49,435.73 L195.79,435.73ZM197.62,433.79 L195.97,436.65 L192.67,436.65 L191.02,433.79 L192.67,430.93 L195.97,430.93ZM198.09,440.15 L196.44,443.01 L193.14,443.01 L191.49,440.15 L193.14,437.3 L196.44,437.3ZM198.26,433.94 L196.61,436.8 L193.31,436.8 L191.66,433.94 L193.31,431.08 L196.61,431.08ZM198.49,436.49 L196.84,439.34 L193.54,439.34 L191.89,436.49 L193.54,433.63 L196.84,433.63ZM199.09,435.24 L197.44,438.09 L194.14,438.09 L192.49,435.24 L194.14,432.38 L197.44,432.38ZM198.92,434.25 L197.27,437.11 L193.97,437.11 L192.32,434.25 L193.97,431.39 L197.27,431.39ZM199.42,435.8 L197.77,438.66 L194.47,438.66 L192.82,435.8 L194.47,432.94 L197.77,432.94ZM199.53,435.25 L197.88,438.11 L194.58,438.11 L192.93,435.25 L194.58,432.39 L197.88,432.39ZM199.84,433.48 L198.19,436.34 L194.89,436.34 L193.24,433.48 L194.89,430.63 L198.19,430.63ZM200.4,434.69 L198.75,437.55 L195.45,437.55 L193.8,434.69 L195.45,431.84 L198.75,431.84ZM200.29,438.42 L198.64,441.28 L195.34,441.28 L193.69,438.42 L195.34,435.56 L198.64,435.56ZM200.88,436.23 L199.23,439.09 L195.93,439.09 L194.28,436.23 L195.93,433.37 L199.23,433.37ZM201.15,434.17 L199.5,437.02 L196.2,437.02 L194.55,434.17 L196.2,431.31 L199.5,431.31ZM201.24,439.5 L199.59,442.36 L196.29,442.36 L194.64,439.5 L196.29,436.64 L199.59,436.64ZM201.85,436.29 L200.2,439.15 L196.9,439.15 L195.25,436.29 L196.9,433.43 L200.2,433.43ZM201.6,436.68 L199.95,439.54 L196.65,439.54 L195,436.68 L196.65,433.82 L199.95,433.82ZM202.03,433.38 L200.38,436.23 L197.08,436.23 L195.43,433.38 L197.08,430.52 L200.38,430.52ZM202.5,435.04 L200.85,437.9 L197.55,437.9 L195.9,435.04 L197.55,432.18 L200.85,432.18ZM202.73,432.91 L201.08,435.77 L197.78,435.77 L196.13,432.91 L197.78,430.05 L201.08,430.05ZM203.07,437.75 L201.42,440.6 L198.12,440.6 L196.47,437.75 L198.12,434.89 L201.42,434.89ZM203.4,436.47 L201.75,439.33 L198.45,439.33 L196.8,436.47 L198.45,433.61 L201.75,433.61ZM203.57,436.14 L201.92,438.99 L198.62,438.99 L196.97,436.14 L198.62,433.28 L201.92,433.28ZM203.95,432.63 L202.3,435.49 L199,435.49 L197.35,432.63 L199,429.78 L202.3,429.78ZM204.2,432.65 L202.55,435.51 L199.25,435.51 L197.6,432.65 L199.25,429.8 L202.55,429.8ZM204.26,432.17 L202.61,435.03 L199.31,435.03 L197.66,432.17 L199.31,429.31 L202.61,429.31ZM204.46,436.03 L202.81,438.89 L199.51,438.89 L197.86,436.03 L199.51,433.17 L202.81,433.17ZM204.82,432.03 L203.17,434.89 L199.87,434.89 L198.22,432.03 L199.87,429.17 L203.17,429.17ZM205.28,437.58 L203.63,440.44 L200.33,440.44 L198.68,437.58 L200.33,434.72 L203.63,434.72ZM205.38,436.54 L203.73,439.4 L200.43,439.4 L198.78,436.54 L200.43,433.68 L203.73,433.68ZM205.64,431.73 L203.99,434.59 L200.69,434.59 L199.04,431.73 L200.69,428.87 L203.99,428.87ZM205.73,433.86 L204.08,436.72 L200.78,436.72 L199.13,433.86 L200.78,431.01 L204.08,431.01ZM206.41,438.27 L204.76,441.13 L201.46,441.13 L199.81,438.27 L201.46,435.41 L204.76,435.41ZM206.78,432.37 L205.13,435.23 L201.83,435.23 L200.18,432.37 L201.83,429.51 L205.13,429.51ZM206.62,434.74 L204.97,437.6 L201.67,437.6 L200.02,434.74 L201.67,431.88 L204.97,431.88ZM206.99,431.65 L205.34,434.51 L202.04,434.51 L200.39,431.65 L202.04,428.79 L205.34,428.79ZM207.44,432.54 L205.79,435.39 L202.49,435.39 L200.84,432.54 L202.49,429.68 L205.79,429.68ZM207.6,435.79 L205.95,438.65 L202.65,438.65 L201,435.79 L202.65,432.93 L205.95,432.93ZM207.77,433.29 L206.12,436.15 L202.82,436.15 L201.17,433.29 L202.82,430.43 L206.12,430.43ZM207.92,432.44 L206.27,435.3 L202.97,435.3 L201.32,432.44 L202.97,429.58 L206.27,429.58ZM208.44,436.91 L206.79,439.77 L203.49,439.77 L201.84,436.91 L203.49,434.06 L206.79,434.06ZM208.74,437.96 L207.09,440.82 L203.79,440.82 L202.14,437.96 L203.79,435.1 L207.09,435.1ZM209.15,433.32 L207.5,436.18 L204.2,436.18 L202.55,433.32 L204.2,430.46 L207.5,430.46ZM209.05,432.9 L207.4,435.76 L204.1,435.76 L202.45,432.9 L204.1,430.04 L207.4,430.04ZM209.62,432.18 L207.97,435.04 L204.67,435.04 L203.02,432.18 L204.67,429.32 L207.97,429.32ZM209.75,434.32 L208.1,437.17 L204.8,437.17 L203.15,434.32 L204.8,431.46 L208.1,431.46ZM209.75,432.9 L208.1,435.76 L204.8,435.76 L203.15,432.9 L204.8,430.05 L208.1,430.05ZM210.06,437.71 L208.41,440.57 L205.11,440.57 L203.46,437.71 L205.11,434.85 L208.41,434.85ZM210.62,435.12 L208.97,437.98 L205.67,437.98 L204.02,435.12 L205.67,432.26 L208.97,432.26ZM210.82,431.51 L209.17,434.37 L205.87,434.37 L204.22,431.51 L205.87,428.65 L209.17,428.65ZM210.84,431.76 L209.19,434.62 L205.89,434.62 L204.24,431.76 L205.89,428.9 L209.19,428.9ZM211.48,436.9 L209.83,439.76 L206.53,439.76 L204.88,436.9 L206.53,434.05 L209.83,434.05ZM211.53,437.04 L209.88,439.9 L206.58,439.9 L204.93,437.04 L206.58,434.18 L209.88,434.18ZM212.11,432.03 L210.46,434.89 L207.16,434.89 L205.51,432.03 L207.16,429.18 L210.46,429.18ZM212.3,436.74 L210.65,439.59 L207.35,439.59 L205.7,436.74 L207.35,433.88 L210.65,433.88ZM212.29,436.12 L210.64,438.98 L207.34,438.98 L205.69,436.12 L207.34,433.27 L210.64,433.27ZM212.91,435.55 L211.26,438.41 L207.96,438.41 L206.31,435.55 L207.96,432.69 L211.26,432.69ZM212.93,435.14 L211.28,438 L207.98,438 L206.33,435.14 L207.98,432.28 L211.28,432.28ZM213.23,432.46 L211.58,435.32 L208.28,435.32 L206.63,432.46 L208.28,429.61 L211.58,429.61ZM213.62,436.06 L211.97,438.92 L208.67,438.92 L207.02,436.06 L208.67,433.2 L211.97,433.2ZM213.98,434.17 L212.33,437.03 L209.03,437.03 L207.38,434.17 L209.03,431.31 L212.33,431.31ZM214.12,436.57 L212.47,439.43 L209.17,439.43 L207.52,436.57 L209.17,433.71 L212.47,433.71ZM214.45,434.25 L212.8,437.11 L209.5,437.11 L207.85,434.25 L209.5,431.39 L212.8,431.39ZM214.47,431.19 L212.82,434.05 L209.52,434.05 L207.87,431.19 L209.52,428.33 L212.82,428.33ZM214.7,432.8 L213.05,435.65 L209.75,435.65 L208.1,432.8 L209.75,429.94 L213.05,429.94ZM215.03,431.08 L213.38,433.94 L210.08,433.94 L208.43,431.08 L210.08,428.22 L213.38,428.22ZM215.7,437.77 L214.05,440.62 L210.75,440.62 L209.1,437.77 L210.75,434.91 L214.05,434.91ZM215.63,435.36 L213.98,438.21 L210.68,438.21 L209.03,435.36 L210.68,432.5 L213.98,432.5ZM215.99,434.28 L214.34,437.14 L211.04,437.14 L209.39,434.28 L211.04,431.43 L214.34,431.43ZM216.4,432.1 L214.75,434.96 L211.45,434.96 L209.8,432.1 L211.45,429.24 L214.75,429.24ZM216.38,435.65 L214.73,438.51 L211.43,438.51 L209.78,435.65 L211.43,432.79 L214.73,432.79ZM216.89,431.84 L215.24,434.7 L211.94,434.7 L210.29,431.84 L211.94,428.98 L215.24,428.98ZM217.02,432.39 L215.37,435.25 L212.07,435.25 L210.42,432.39 L212.07,429.53 L215.37,429.53ZM217.64,432.74 L215.99,435.6 L212.69,435.6 L211.04,432.74 L212.69,429.88 L215.99,429.88ZM217.94,435.93 L216.29,438.79 L212.99,438.79 L211.34,435.93 L212.99,433.08 L216.29,433.08ZM217.67,433.82 L216.02,436.68 L212.72,436.68 L211.07,433.82 L212.72,430.97 L216.02,430.97ZM218.09,434.25 L216.44,437.11 L213.14,437.11 L211.49,434.25 L213.14,431.39 L216.44,431.39ZM218.47,433.42 L216.82,436.28 L213.52,436.28 L211.87,433.42 L213.52,430.56 L216.82,430.56ZM218.99,435.18 L217.34,438.04 L214.04,438.04 L212.39,435.18 L214.04,432.32 L217.34,432.32ZM219,433.19 L217.35,436.04 L214.05,436.04 L212.4,433.19 L214.05,430.33 L217.35,430.33ZM219.22,430.9 L217.57,433.75 L214.27,433.75 L212.62,430.9 L214.27,428.04 L217.57,428.04ZM219.59,433.42 L217.94,436.28 L214.64,436.28 L212.99,433.42 L214.64,430.56 L217.94,430.56ZM219.61,433.28 L217.96,436.14 L214.66,436.14 L213.01,433.28 L214.66,430.43 L217.96,430.43ZM220.15,431.13 L218.5,433.99 L215.2,433.99 L213.55,431.13 L215.2,428.27 L218.5,428.27ZM220.24,430.89 L218.59,433.75 L215.29,433.75 L213.64,430.89 L215.29,428.03 L218.59,428.03ZM220.51,430.83 L218.86,433.69 L215.56,433.69 L213.91,430.83 L215.56,427.97 L218.86,427.97ZM220.77,432.69 L219.12,435.54 L215.82,435.54 L214.17,432.69 L215.82,429.83 L219.12,429.83ZM221.26,435.04 L219.61,437.9 L216.31,437.9 L214.66,435.04 L216.31,432.18 L219.61,432.18ZM221.22,430.74 L219.57,433.6 L216.27,433.6 L214.62,430.74 L216.27,427.88 L219.57,427.88ZM221.78,432.31 L220.13,435.17 L216.83,435.17 L215.18,432.31 L216.83,429.45 L220.13,429.45ZM221.79,434.29 L220.14,437.15 L216.84,437.15 L215.19,434.29 L216.84,431.44 L220.14,431.44ZM222.06,436.82 L220.41,439.67 L217.11,439.67 L215.46,436.82 L217.11,433.96 L220.41,433.96ZM222.37,435.26 L220.72,438.12 L217.42,438.12 L215.77,435.26 L217.42,432.4 L220.72,432.4ZM223.01,436.47 L221.36,439.33 L218.06,439.33 L216.41,436.47 L218.06,433.61 L221.36,433.61ZM222.85,430.78 L221.2,433.64 L217.9,433.64 L216.25,430.78 L217.9,427.92 L221.2,427.92ZM223.09,431.13 L221.44,433.99 L218.14,433.99 L216.49,431.13 L218.14,428.28 L221.44,428.28ZM223.78,434.29 L222.13,437.14 L218.83,437.14 L217.18,434.29 L218.83,431.43 L222.13,431.43ZM224,432.08 L222.35,434.94 L219.05,434.94 L217.4,432.08 L219.05,429.22 L222.35,429.22ZM224.45,435.53 L222.8,438.38 L219.5,438.38 L217.85,435.53 L219.5,432.67 L222.8,432.67ZM224.38,438.1 L222.73,440.96 L219.43,440.96 L217.78,438.1 L219.43,435.25 L222.73,435.25ZM224.94,434.52 L223.29,437.37 L219.99,437.37 L218.34,434.52 L219.99,431.66 L223.29,431.66ZM225.16,430.61 L223.51,433.47 L220.21,433.47 L218.56,430.61 L220.21,427.76 L223.51,427.76ZM225.02,436.17 L223.37,439.03 L220.07,439.03 L218.42,436.17 L220.07,433.31 L223.37,433.31ZM225.74,435.09 L224.09,437.95 L220.79,437.95 L219.14,435.09 L220.79,432.24 L224.09,432.24ZM225.94,430.53 L224.29,433.39 L220.99,433.39 L219.34,430.53 L220.99,427.68 L224.29,427.68ZM226.31,432.59 L224.66,435.45 L221.36,435.45 L219.71,432.59 L221.36,429.74 L224.66,429.74ZM226.15,433.03 L224.5,435.88 L221.2,435.88 L219.55,433.03 L221.2,430.17 L224.5,430.17ZM226.53,436.64 L224.88,439.5 L221.58,439.5 L219.93,436.64 L221.58,433.78 L224.88,433.78ZM226.71,433.73 L225.06,436.58 L221.76,436.58 L220.11,433.73 L221.76,430.87 L225.06,430.87ZM227.31,435.34 L225.66,438.2 L222.36,438.2 L220.71,435.34 L222.36,432.48 L225.66,432.48ZM227.18,434.71 L225.53,437.56 L222.23,437.56 L220.58,434.71 L222.23,431.85 L225.53,431.85ZM227.97,433.1 L226.32,435.95 L223.02,435.95 L221.37,433.1 L223.02,430.24 L226.32,430.24ZM228.2,435.23 L226.55,438.09 L223.25,438.09 L221.6,435.23 L223.25,432.37 L226.55,432.37ZM228.27,433.55 L226.62,436.41 L223.32,436.41 L221.67,433.55 L223.32,430.69 L226.62,430.69ZM228.49,430.47 L226.84,433.33 L223.54,433.33 L221.89,430.47 L223.54,427.61 L226.84,427.61ZM228.58,435.17 L226.93,438.03 L223.63,438.03 L221.98,435.17 L223.63,432.32 L226.93,432.32ZM229.16,434.29 L227.51,437.14 L224.21,437.14 L222.56,434.29 L224.21,431.43 L227.51,431.43ZM229.36,431.38 L227.71,434.24 L224.41,434.24 L222.76,431.38 L224.41,428.52 L227.71,428.52ZM229.56,432.65 L227.91,435.51 L224.61,435.51 L222.96,432.65 L224.61,429.8 L227.91,429.8ZM229.82,430.03 L228.17,432.89 L224.87,432.89 L223.22,430.03 L224.87,427.17 L228.17,427.17ZM230.48,430.02 L228.83,432.88 L225.53,432.88 L223.88,430.02 L225.53,427.16 L228.83,427.16ZM230.33,432.38 L228.68,435.23 L225.38,435.23 L223.73,432.38 L225.38,429.52 L228.68,429.52ZM230.59,430.75 L228.94,433.61 L225.64,433.61 L223.99,430.75 L225.64,427.89 L228.94,427.89ZM231.28,432.48 L229.63,435.34 L226.33,435.34 L224.68,432.48 L226.33,429.62 L229.63,429.62ZM231.44,438.07 L229.79,440.92 L226.49,440.92 L224.84,438.07 L226.49,435.21 L229.79,435.21ZM231.63,434.93 L229.98,437.79 L226.68,437.79 L225.03,434.93 L226.68,432.07 L229.98,432.07ZM231.69,432.9 L230.04,435.75 L226.74,435.75 L225.09,432.9 L226.74,430.04 L230.04,430.04ZM232.36,434.19 L230.71,437.05 L227.41,437.05 L225.76,434.19 L227.41,431.33 L230.71,431.33ZM232.51,435.88 L230.86,438.74 L227.56,438.74 L225.91,435.88 L227.56,433.03 L230.86,433.03ZM232.55,431.93 L230.9,434.78 L227.6,434.78 L225.95,431.93 L227.6,429.07 L230.9,429.07ZM232.65,432.19 L231,435.05 L227.7,435.05 L226.05,432.19 L227.7,429.33 L231,429.33ZM233.18,434.32 L231.53,437.17 L228.23,437.17 L226.58,434.32 L228.23,431.46 L231.53,431.46ZM233.37,431.82 L231.72,434.68 L228.42,434.68 L226.77,431.82 L228.42,428.96 L231.72,428.96ZM233.7,433.02 L232.05,435.88 L228.75,435.88 L227.1,433.02 L228.75,430.16 L232.05,430.16ZM233.89,431.41 L232.24,434.26 L228.94,434.26 L227.29,431.41 L228.94,428.55 L232.24,428.55ZM234.16,431.09 L232.51,433.95 L229.21,433.95 L227.56,431.09 L229.21,428.23 L232.51,428.23ZM234.81,433.39 L233.16,436.25 L229.86,436.25 L228.21,433.39 L229.86,430.53 L233.16,430.53ZM234.87,430.74 L233.22,433.6 L229.92,433.6 L228.27,430.74 L229.92,427.88 L233.22,427.88ZM235.39,431.74 L233.74,434.6 L230.44,434.6 L228.79,431.74 L230.44,428.89 L233.74,428.89ZM235.32,430.78 L233.67,433.64 L230.37,433.64 L228.72,430.78 L230.37,427.92 L233.67,427.92ZM235.88,436.23 L234.23,439.08 L230.93,439.08 L229.28,436.23 L230.93,433.37 L234.23,433.37ZM235.71,430.41 L234.06,433.27 L230.76,433.27 L229.11,430.41 L230.76,427.55 L234.06,427.55ZM236.01,430.27 L234.36,433.13 L231.06,433.13 L229.41,430.27 L231.06,427.41 L234.36,427.41ZM236.67,433.04 L235.02,435.89 L231.72,435.89 L230.07,433.04 L231.72,430.18 L235.02,430.18ZM237.01,435.15 L235.36,438 L232.06,438 L230.41,435.15 L232.06,432.29 L235.36,432.29ZM237.23,435.03 L235.58,437.89 L232.28,437.89 L230.63,435.03 L232.28,432.18 L235.58,432.18ZM237.29,431.2 L235.64,434.05 L232.34,434.05 L230.69,431.2 L232.34,428.34 L235.64,428.34ZM237.8,434.43 L236.15,437.29 L232.85,437.29 L231.2,434.43 L232.85,431.57 L236.15,431.57ZM237.91,432.52 L236.26,435.38 L232.96,435.38 L231.31,432.52 L232.96,429.66 L236.26,429.66ZM237.99,430.82 L236.34,433.68 L233.04,433.68 L231.39,430.82 L233.04,427.96 L236.34,427.96ZM238.09,429.4 L236.44,432.26 L233.14,432.26 L231.49,429.4 L233.14,426.54 L236.44,426.54ZM238.69,433.98 L237.04,436.84 L233.74,436.84 L232.09,433.98 L233.74,431.12 L237.04,431.12ZM238.61,430 L236.96,432.85 L233.66,432.85 L232.01,430 L233.66,427.14 L236.96,427.14ZM239.47,434.75 L237.82,437.61 L234.52,437.61 L232.87,434.75 L234.52,431.89 L237.82,431.89ZM239.58,429.31 L237.93,432.16 L234.63,432.16 L232.98,429.31 L234.63,426.45 L237.93,426.45ZM239.51,430.82 L237.86,433.68 L234.56,433.68 L232.91,430.82 L234.56,427.96 L237.86,427.96ZM239.95,436.11 L238.3,438.96 L235,438.96 L233.35,436.11 L235,433.25 L238.3,433.25ZM129.22,538.5 L127.97,540.67 L125.47,540.67 L124.22,538.5 L125.47,536.33 L127.97,536.33ZM129.26,535.55 L128.01,537.72 L125.51,537.72 L124.26,535.55 L125.51,533.38 L128.01,533.38ZM129.23,532.6 L127.98,534.77 L125.48,534.77 L124.23,532.6 L125.48,530.43 L127.98,530.43ZM129.31,529.65 L128.06,531.82 L125.56,531.82 L124.31,529.65 L125.56,527.48 L128.06,527.48ZM129.27,526.7 L128.02,528.87 L125.52,528.87 L124.27,526.7 L125.52,524.53 L128.02,524.53ZM129.05,523.75 L127.8,525.92 L125.3,525.92 L124.05,523.75 L125.3,521.58 L127.8,521.58ZM129.38,520.8 L128.13,522.97 L125.63,522.97 L124.38,520.8 L125.63,518.63 L128.13,518.63ZM128.99,517.85 L127.74,520.02 L125.24,520.02 L123.99,517.85 L125.24,515.68 L127.74,515.68ZM129.35,514.9 L128.1,517.07 L125.6,517.07 L124.35,514.9 L125.6,512.73 L128.1,512.73ZM129.4,511.95 L128.15,514.12 L125.65,514.12 L124.4,511.95 L125.65,509.78 L128.15,509.78ZM129.41,509 L128.16,511.17 L125.66,511.17 L124.41,509 L125.66,506.83 L128.16,506.83ZM129.03,506.05 L127.78,508.22 L125.28,508.22 L124.03,506.05 L125.28,503.88 L127.78,503.88ZM129.4,503.1 L128.15,505.27 L125.65,505.27 L124.4,503.1 L125.65,500.93 L128.15,500.93ZM129.57,500.15 L128.32,502.32 L125.82,502.32 L124.57,500.15 L125.82,497.98 L128.32,497.98ZM129.15,497.2 L127.9,499.37 L125.4,499.37 L124.15,497.2 L125.4,495.03 L127.9,495.03ZM129.01,494.25 L127.76,496.42 L125.26,496.42 L124.01,494.25 L125.26,492.08 L127.76,492.08ZM129.2,491.3 L127.95,493.47 L125.45,493.47 L124.2,491.3 L125.45,489.13 L127.95,489.13ZM129.54,488.35 L128.29,490.52 L125.79,490.52 L124.54,488.35 L125.79,486.18 L128.29,486.18Z" fill="none" stroke="#fc6163" stroke-width="1.0"/>
<circle cx="125.9" cy="544.3" r="2.6" fill="#a9d5ec" stroke="#f08080" stroke-width="0.8" stroke-dasharray="1.2 0.8"/>
<polygon points="71,402.1 68.95,405.65 64.85,405.65 62.8,402.1 64.85,398.55 68.95,398.55" fill="none" stroke="#f0646b" stroke-width="2.3" stroke-linejoin="round"/>
<path d="M66.2,400.2 A1.8,1.8 0 1 0 68.4,402.6" fill="none" stroke="#f0646b" stroke-width="0.9"/>
<path d="M62.3,418 h8.8 l-4.4,8.3z" fill="none" stroke="#3592c8" stroke-width="1.7" stroke-linejoin="miter"/>
<text x="79.5" y="406.1" font-size="14.85" text-anchor="start" fill="#000" >With SNF coating</text>
<text x="79.5" y="423.7" font-size="14.85" text-anchor="start" fill="#000" >Without SNF coating</text>
<text x="187.9" y="487.1" font-size="13.2" text-anchor="middle" fill="#000" >Adding</text>
<text x="187.8" y="502.6" font-size="13.2" text-anchor="middle" fill="#000" >PIP solution</text>
<path d="M157,507.8 L137.2,528.6" stroke="#2a2a2a" stroke-width="1.8"/>
<path d="M132.2,533.4 L134.4,525.2 L140.7,530.4 Z" fill="#2a2a2a"/>
<rect x="54.2" y="392.8" width="182.4" height="157.6" fill="none" stroke="#000" stroke-width="1.5"/>
<line x1="54.6" y1="537.8" x2="58" y2="537.8" stroke="#333" stroke-width="1"/>
<text x="52.7" y="544.5" font-size="15" text-anchor="end" fill="#000" >0</text>
<line x1="54.6" y1="512.4" x2="58" y2="512.4" stroke="#333" stroke-width="1"/>
<text x="52.7" y="519.1" font-size="15" text-anchor="end" fill="#000" >500</text>
<line x1="54.6" y1="487" x2="58" y2="487" stroke="#333" stroke-width="1"/>
<text x="52.7" y="493.7" font-size="15" text-anchor="end" fill="#000" >1000</text>
<line x1="54.6" y1="461.6" x2="58" y2="461.6" stroke="#333" stroke-width="1"/>
<text x="52.7" y="468.3" font-size="15" text-anchor="end" fill="#000" >1500</text>
<line x1="54.6" y1="436.2" x2="58" y2="436.2" stroke="#333" stroke-width="1"/>
<text x="52.7" y="442.9" font-size="15" text-anchor="end" fill="#000" >2000</text>
<line x1="54.6" y1="410.8" x2="58" y2="410.8" stroke="#333" stroke-width="1"/>
<text x="52.7" y="417.5" font-size="15" text-anchor="end" fill="#000" >2500</text>
<line x1="59.7" y1="549.3" x2="59.7" y2="546.3" stroke="#333" stroke-width="1"/>
<text x="59.7" y="565.4" font-size="15" text-anchor="middle" fill="#000" >0</text>
<line x1="100.55" y1="549.3" x2="100.55" y2="546.3" stroke="#333" stroke-width="1"/>
<text x="100.55" y="565.4" font-size="15" text-anchor="middle" fill="#000" >150</text>
<line x1="141.39" y1="549.3" x2="141.39" y2="546.3" stroke="#333" stroke-width="1"/>
<text x="141.39" y="565.4" font-size="15" text-anchor="middle" fill="#000" >300</text>
<line x1="182.24" y1="549.3" x2="182.24" y2="546.3" stroke="#333" stroke-width="1"/>
<text x="182.24" y="565.4" font-size="15" text-anchor="middle" fill="#000" >450</text>
<line x1="223.08" y1="549.3" x2="223.08" y2="546.3" stroke="#333" stroke-width="1"/>
<text x="223.08" y="565.4" font-size="15" text-anchor="middle" fill="#000" >600</text>
<text x="142.9" y="582.2" font-size="14.8" text-anchor="middle" fill="#000" >Time (s)</text>
<text x="0" y="0" font-size="14.8" text-anchor="middle" fill="#000" transform="translate(13.4,469.2) rotate(-90)">PIP Sorption (ng cm<tspan font-size="9.4" dy="-5.7">-2</tspan><tspan dy="5.7">)</tspan></text>
<text x="241.8" y="376.6" font-size="18" text-anchor="start" fill="#000" >(E)</text>
<path d="M279.8,534.2 C279.95,532.48 280.33,527.18 280.7,523.9 C281.07,520.62 281.53,517.63 282,514.5 C282.47,511.37 282.87,508.55 283.5,505.1 C284.13,501.65 285.02,497.57 285.8,493.8 C286.58,490.03 287.33,486.27 288.2,482.5 C289.07,478.73 289.9,475.12 291,471.2 C292.1,467.28 293.53,462.6 294.8,459 C296.07,455.4 297.35,452.42 298.6,449.6 C299.85,446.78 301.05,444.13 302.3,442.1 C303.55,440.07 304.85,438.57 306.1,437.4 C307.35,436.23 308.55,435.57 309.8,435.1 C311.05,434.63 312.23,434.7 313.6,434.6 C314.97,434.5 317.27,434.52 318,434.5 L462,434.5" fill="none" stroke="#ee5359" stroke-width="1.3"/>
<path d="M279.9,534.4 C294.92,534.43 353.52,534.57 370,534.6 C386.48,534.63 376.37,534.77 378.8,534.6 C381.23,534.43 382.67,534.13 384.6,533.6 C386.53,533.07 387.97,532.55 390.4,531.4 C392.83,530.25 396.4,527.8 399.2,526.7 C402,525.6 404.77,524.92 407.2,524.8 C409.63,524.68 411.73,525.38 413.8,526 C415.87,526.62 418.02,527.85 419.6,528.5 C421.18,529.15 422.08,530.15 423.3,529.9 C424.52,529.65 425.45,527.8 426.9,527 C428.35,526.2 430.05,525.22 432,525.1 C433.95,524.98 436.03,525.5 438.6,526.3 C441.17,527.1 444.48,528.57 447.4,529.9 C450.32,531.23 454.28,533.82 456.1,534.3 C457.92,534.78 457.32,535.12 458.3,532.8 C459.28,530.48 461.38,522.47 462,520.4" fill="none" stroke="#4a9dcc" stroke-width="1.5"/>
<line x1="289.5" y1="405.6" x2="322.5" y2="405.6" stroke="#ee5c63" stroke-width="1.4" stroke-linecap="round"/>
<line x1="289.5" y1="422" x2="322.5" y2="422" stroke="#5fa8d3" stroke-width="1.9" stroke-linecap="round"/>
<text x="330.5" y="410" font-size="14.5" text-anchor="start" fill="#000" >SNF-PIP</text>
<text x="330.5" y="426.2" font-size="14.5" text-anchor="start" fill="#000" >PVDF-PIP</text>
<rect x="279.9" y="391.9" width="182.3" height="156.4" fill="none" stroke="#000" stroke-width="1.5"/>
<line x1="280.5" y1="534.2" x2="283.5" y2="534.2" stroke="#333" stroke-width="1"/>
<text x="274.7" y="541.2" font-size="15" text-anchor="end" fill="#000" >0</text>
<line x1="280.5" y1="505.74" x2="283.5" y2="505.74" stroke="#333" stroke-width="1"/>
<text x="274.7" y="512.74" font-size="15" text-anchor="end" fill="#000" >2</text>
<line x1="280.5" y1="477.28" x2="283.5" y2="477.28" stroke="#333" stroke-width="1"/>
<text x="274.7" y="484.28" font-size="15" text-anchor="end" fill="#000" >4</text>
<line x1="280.5" y1="448.82" x2="283.5" y2="448.82" stroke="#333" stroke-width="1"/>
<text x="274.7" y="455.82" font-size="15" text-anchor="end" fill="#000" >6</text>
<line x1="280.5" y1="420.36" x2="283.5" y2="420.36" stroke="#333" stroke-width="1"/>
<text x="274.7" y="427.36" font-size="15" text-anchor="end" fill="#000" >8</text>
<line x1="280.5" y1="391.9" x2="283.5" y2="391.9" stroke="#333" stroke-width="1"/>
<text x="274.7" y="398.9" font-size="15" text-anchor="end" fill="#000" >10</text>
<line x1="279.9" y1="547.7" x2="279.9" y2="544.7" stroke="#333" stroke-width="1"/>
<text x="279.9" y="564.2" font-size="15" text-anchor="middle" fill="#000" >0</text>
<line x1="316.4" y1="547.7" x2="316.4" y2="544.7" stroke="#333" stroke-width="1"/>
<text x="316.4" y="564.2" font-size="15" text-anchor="middle" fill="#000" >10</text>
<line x1="352.9" y1="547.7" x2="352.9" y2="544.7" stroke="#333" stroke-width="1"/>
<text x="352.9" y="564.2" font-size="15" text-anchor="middle" fill="#000" >20</text>
<line x1="389.4" y1="547.7" x2="389.4" y2="544.7" stroke="#333" stroke-width="1"/>
<text x="389.4" y="564.2" font-size="15" text-anchor="middle" fill="#000" >30</text>
<line x1="425.9" y1="547.7" x2="425.9" y2="544.7" stroke="#333" stroke-width="1"/>
<text x="425.9" y="564.2" font-size="15" text-anchor="middle" fill="#000" >40</text>
<line x1="462.4" y1="547.7" x2="462.4" y2="544.7" stroke="#333" stroke-width="1"/>
<text x="462.4" y="564.2" font-size="15" text-anchor="middle" fill="#000" >50</text>
<text x="370.4" y="581.5" font-size="14.5" text-anchor="middle" fill="#000" >Simulation Time (ns)</text>
<text x="0" y="0" font-size="14.8" text-anchor="middle" fill="#000" transform="translate(256.8,470.3) rotate(-90)">Number of PIP Molecules</text>
<text x="461.4" y="376.6" font-size="18" text-anchor="start" fill="#000" >(F)</text>
<defs><linearGradient id="fr" x1="0" x2="1" y1="0" y2="0"><stop offset="0" stop-color="#ff5a60"/><stop offset="0.12" stop-color="#ff7e83"/><stop offset="0.38" stop-color="#ffd3d5"/><stop offset="0.6" stop-color="#ffcfd1"/><stop offset="0.82" stop-color="#ff9a9e"/><stop offset="1" stop-color="#ff5a60"/></linearGradient><linearGradient id="fb" x1="0" x2="1" y1="0" y2="0"><stop offset="0" stop-color="#1288c0"/><stop offset="0.42" stop-color="#a9d9ef"/><stop offset="0.6" stop-color="#8fcbe8"/><stop offset="1" stop-color="#1288c0"/></linearGradient><linearGradient id="fg" x1="0" x2="0" y1="0" y2="1"><stop offset="0" stop-color="#ebebeb"/><stop offset="1" stop-color="#6a6a6a"/></linearGradient></defs>
<rect x="541" y="397.2" width="33" height="119.34" fill="url(#fr)"/>
<rect x="606.8" y="397.2" width="33.3" height="8.6" fill="url(#fb)"/>
<text x="620.6" y="421.5" font-size="14.7" text-anchor="middle" fill="#000" >PVDF-PIP</text>
<text x="558.5" y="533" font-size="14.3" text-anchor="middle" fill="#000" >SNF-PIP</text>
<rect x="525" y="397.2" width="131.1" height="156" fill="none" stroke="#000" stroke-width="1.5"/>
<text x="521.2" y="403" font-size="15" text-anchor="end" fill="#000" >0</text>
<line x1="525.6" y1="436.2" x2="528.8" y2="436.2" stroke="#333" stroke-width="1"/>
<text x="521.2" y="442" font-size="15" text-anchor="end" fill="#000" >-200</text>
<line x1="525.6" y1="475.2" x2="528.8" y2="475.2" stroke="#333" stroke-width="1"/>
<text x="521.2" y="481" font-size="15" text-anchor="end" fill="#000" >-400</text>
<line x1="525.6" y1="514.2" x2="528.8" y2="514.2" stroke="#333" stroke-width="1"/>
<text x="521.2" y="520" font-size="15" text-anchor="end" fill="#000" >-600</text>
<text x="521.2" y="559" font-size="15" text-anchor="end" fill="#000" >-800</text>
<path d="M663,397.7 H666.6 V528.9 H670.2 L664.9,539.6 L659.5,528.9 H663 Z" fill="url(#fg)"/>
<text x="0" y="0" font-size="13.2" text-anchor="start" fill="#000" transform="translate(673.2,409.3) rotate(90)">Binding strength</text>
<text x="659.3" y="552" font-size="13.2" text-anchor="start" fill="#000" >High</text>
<text x="0" y="0" font-size="14.75" text-anchor="middle" fill="#000" transform="translate(486.2,475.2) rotate(-90)">Interaction Energy (kJ mol<tspan font-size="9.4" dy="-5.7">-1</tspan><tspan dy="5.7">)</tspan></text>
</svg></body></html>
